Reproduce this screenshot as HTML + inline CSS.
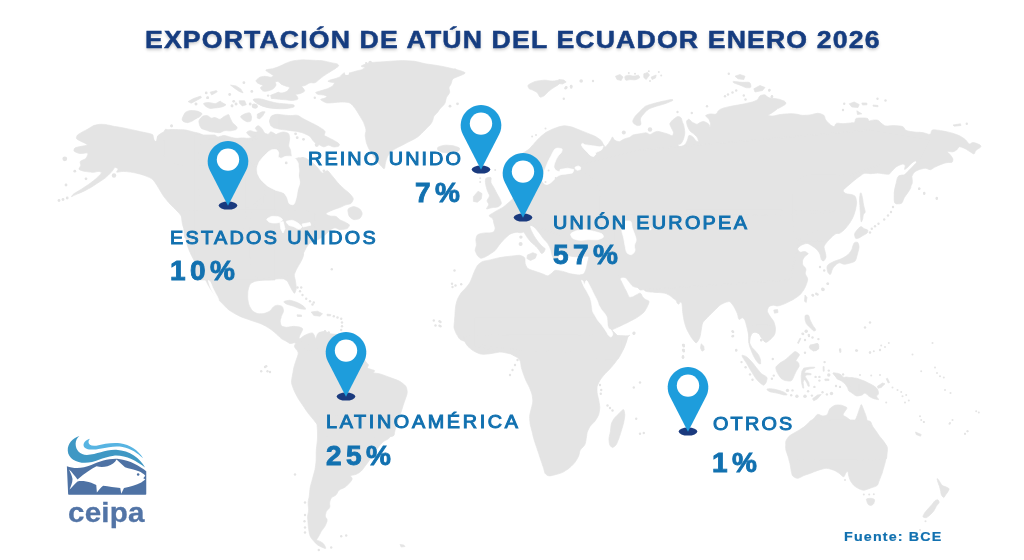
<!DOCTYPE html>
<html lang="es">
<head>
<meta charset="utf-8">
<title>Exportación de atún del Ecuador enero 2026</title>
<style>
html,body{margin:0;padding:0;background:#fff;}
body{width:1024px;height:560px;position:relative;overflow:hidden;font-family:"Liberation Sans",sans-serif;}
#map{position:absolute;left:0;top:0;width:1024px;height:560px;}
.title{position:absolute;left:145px;top:24px;margin:0;font-size:23px;line-height:32px;font-weight:bold;color:#163d80;white-space:nowrap;letter-spacing:0.97px;transform-origin:0 50%;transform:scaleX(1.16);-webkit-text-stroke:0.45px #163d80;text-shadow:0 2px 3px rgba(0,0,0,.22);}
.lbl{position:absolute;font-size:18px;line-height:18px;color:#1271b0;white-space:nowrap;letter-spacing:2.2px;-webkit-text-stroke:0.95px #1271b0;transform-origin:0 50%;transform:scaleX(1.1);}
.pct{position:absolute;font-size:28px;line-height:28px;font-weight:bold;color:#1271b0;white-space:nowrap;letter-spacing:4.4px;-webkit-text-stroke:0.9px #1271b0;}
.src{position:absolute;left:844px;top:529px;font-size:13px;line-height:16px;font-weight:bold;color:#1271b0;letter-spacing:1.05px;white-space:nowrap;transform-origin:0 50%;transform:scaleX(1.1);-webkit-text-stroke:0.2px #1271b0;}
.pin{position:absolute;width:42px;height:72px;overflow:visible;}
.logo{position:absolute;left:60px;top:430px;width:96px;height:70px;}
.logotxt{position:absolute;left:67.7px;top:494.8px;font-size:28.3px;line-height:34px;font-weight:bold;color:#5274a6;letter-spacing:0.2px;transform-origin:0 50%;transform:scaleX(1.045);-webkit-text-stroke:0.3px #5274a6;}
</style>
</head>
<body>
<svg id="map" viewBox="0 0 1024 560">
<g id="land" fill="#e4e4e4" stroke="none">
<path fill="#e4e4e4" stroke="#e4e4e4" stroke-width="0.7" stroke-linejoin="round" d="M76.9 136.1 Q77.2 135.0 78.8 134.1 L80.8 132.9 Q82.2 132.0 83.8 131.2 L85.8 130.2 Q87.2 129.5 89.1 128.3 L91.6 126.7 Q93.5 125.5 95.4 125.1 L97.9 124.6 Q99.8 124.2 101.6 124.3 L104.1 124.4 Q106.0 124.5 107.9 125.0 L110.4 125.5 Q112.2 126.0 114.9 126.5 L118.4 127.0 Q121.0 127.5 124.0 128.1 L128.0 128.9 Q131.0 129.5 134.0 130.2 L138.0 131.1 Q141.0 131.8 143.6 132.3 L147.1 133.0 Q149.8 133.5 150.9 133.9 L152.4 134.6 Q153.5 135.0 153.7 136.5 L154.0 138.5 Q154.2 140.0 154.8 140.4 L155.5 141.1 Q156.0 141.5 156.3 139.9 L156.7 137.8 Q157.0 136.2 158.6 135.1 L160.7 133.6 Q162.2 132.5 164.5 131.6 L167.5 130.4 Q169.8 129.5 172.4 129.5 L175.9 129.5 Q178.5 129.5 180.8 129.7 L183.8 129.8 Q186.0 130.0 188.2 130.6 L191.2 131.4 Q193.5 132.0 195.8 132.5 L198.8 133.2 Q201.0 133.8 202.5 134.9 L204.5 136.4 Q206.0 137.5 209.0 138.1 L213.0 138.9 Q216.0 139.5 220.5 139.7 L226.5 139.8 Q231.0 140.0 235.5 143.0 L241.5 147.0 Q246.0 150.0 246.0 177.0 L246.0 213.0 Q246.0 240.0 227.6 240.0 L203.1 240.0 Q184.8 240.0 184.5 237.0 L184.2 233.0 Q184.0 230.0 183.8 227.0 L183.7 223.0 Q183.5 220.0 182.4 218.1 L180.9 215.6 Q179.8 213.8 177.9 211.9 L175.4 209.4 Q173.5 207.5 172.0 206.0 L170.0 204.0 Q168.5 202.5 167.0 200.6 L165.0 198.1 Q163.5 196.2 162.4 194.4 L160.9 191.9 Q159.8 190.0 158.6 188.1 L157.1 185.6 Q156.0 183.8 154.9 182.2 L153.4 180.2 Q152.2 178.8 149.6 177.6 L146.1 176.1 Q143.5 175.0 140.5 174.2 L136.5 173.2 Q133.5 172.5 130.5 172.1 L126.5 171.6 Q123.5 171.2 121.2 171.6 L118.2 172.1 Q116.0 172.5 116.8 171.4 L117.8 169.9 Q118.5 168.8 117.4 168.2 L115.9 167.5 Q114.8 167.0 114.0 168.3 L113.0 170.0 Q112.2 171.2 110.4 173.1 L107.9 175.6 Q106.0 177.5 103.8 179.0 L100.8 181.0 Q98.5 182.5 96.2 184.0 L93.2 186.0 Q91.0 187.5 88.4 188.8 L84.9 190.7 Q82.2 192.0 80.0 192.9 L77.0 194.1 Q74.8 195.0 73.6 195.6 L72.1 196.4 Q71.0 197.0 71.8 196.0 L72.8 194.7 Q73.5 193.8 75.8 192.5 L78.8 190.8 Q81.0 189.5 83.2 188.0 L86.2 186.0 Q88.5 184.5 90.8 182.8 L93.8 180.5 Q96.0 178.8 97.9 176.9 L100.4 174.4 Q102.2 172.5 101.1 172.1 L99.6 171.6 Q98.5 171.2 97.0 171.6 L95.0 172.1 Q93.5 172.5 90.5 172.1 L86.5 171.6 Q83.5 171.2 82.0 170.7 L80.0 170.0 Q78.5 169.5 79.2 168.3 L80.2 166.7 Q81.0 165.5 80.6 164.2 L80.1 162.5 Q79.8 161.2 81.6 160.5 L84.1 159.5 Q86.0 158.8 86.8 156.9 L87.8 154.4 Q88.5 152.5 85.9 152.9 L82.4 153.4 Q79.8 153.8 77.9 153.0 L75.4 152.0 Q73.5 151.2 73.9 150.1 L74.4 148.6 Q74.8 147.5 78.9 146.8 L84.4 145.8 Q88.5 145.0 87.0 144.2 L85.0 143.2 Q83.5 142.5 81.2 141.4 L78.2 139.9 Q76.0 138.8 76.4 137.6Z M188.1 101.6 L193.6 98.5 L200.7 96.1 L201.4 97.7 L195.9 100.8 L191.2 103.2Z M203.7 104.1 Q203.0 103.2 204.9 102.9 L207.4 102.6 Q209.3 102.4 211.2 102.9 L213.7 103.5 Q215.6 104.0 217.0 103.0 L218.9 101.8 Q220.3 100.8 221.0 101.5 L222.0 102.5 Q222.7 103.2 223.9 103.6 L225.4 104.3 Q226.6 104.7 225.2 105.4 L223.3 106.4 Q221.9 107.1 220.0 107.3 L217.5 107.7 Q215.6 107.9 213.9 108.1 L211.7 108.4 Q210.1 108.7 208.7 108.0 L206.8 107.0 Q205.4 106.3 204.7 105.4Z M239.2 100.8 L244.7 100.8 L246.3 104.7 L242.3 106.0 L239.5 103.2Z M240.9 117.5 Q240.0 116.5 241.6 115.6 L243.8 114.3 Q245.5 113.4 246.9 113.2 L248.8 112.8 Q250.2 112.6 250.7 114.0 L251.3 115.9 Q251.8 117.3 251.5 118.5 L251.2 120.1 Q251.0 121.3 249.8 121.5 L248.2 121.8 Q247.0 122.0 245.9 121.3 L244.3 120.4 Q243.1 119.7 242.2 118.7Z M257.3 114.2 L262.0 111.8 L265.1 111.8 L262.8 115.7 L259.6 118.9 L257.3 118.1Z M230.5 85.1 L236.0 85.9 L240.8 89.0 L243.1 92.9 L239.2 91.4 L234.5 88.2Z M210.1 92.2 L216.4 90.6 L217.2 91.8 L211.7 95.0Z M253.7 100.4 Q252.5 99.2 254.7 99.0 L257.5 98.7 Q259.6 98.5 262.0 99.2 L265.1 100.1 Q267.5 100.8 270.3 101.5 L274.1 102.5 Q276.9 103.2 279.7 103.4 L283.5 103.7 Q286.4 104.0 288.7 104.2 L291.9 104.5 Q294.2 104.7 294.2 105.4 L294.2 106.4 Q294.2 107.1 291.9 107.6 L288.7 108.2 Q286.4 108.7 283.5 108.7 L279.7 108.7 Q276.9 108.7 274.6 108.4 L271.4 108.1 Q269.1 107.9 267.2 107.4 L264.7 106.8 Q262.8 106.3 260.9 105.4 L258.4 104.1 Q256.5 103.2 255.3 102.0Z M270.6 95.3 L278.5 92.2 L281.6 94.5 L276.9 97.7 L271.4 98.5Z M163.7 140.2 Q163.7 129.1 165.6 129.3 L168.1 129.7 Q170.0 129.9 172.4 130.1 L175.5 130.4 Q177.9 130.7 180.2 130.9 L183.4 131.2 Q185.7 131.5 188.1 131.9 L191.2 132.6 Q193.6 133.0 195.9 133.5 L199.1 134.1 Q201.4 134.6 202.9 135.6 L204.7 136.8 Q206.2 137.8 208.5 138.0 L211.7 138.3 Q214.0 138.5 215.9 137.8 L218.4 136.9 Q220.3 136.2 221.7 136.0 L223.6 135.6 Q225.0 135.4 226.4 135.9 L228.3 136.5 Q229.7 137.0 231.6 137.4 L234.2 138.1 Q236.0 138.5 237.9 138.3 L240.4 138.0 Q242.3 137.8 244.2 138.0 L246.7 138.3 Q248.6 138.5 250.5 137.8 L253.0 136.9 Q254.9 136.2 255.8 134.8 L257.1 132.9 Q258.1 131.5 257.1 130.5 L255.8 129.3 Q254.9 128.3 255.8 127.4 L257.1 126.1 Q258.1 125.2 259.2 126.1 L260.8 127.4 Q262.0 128.3 262.7 129.7 L263.6 131.6 Q264.3 133.0 265.5 133.5 L267.1 134.1 Q268.3 134.6 269.0 133.7 L269.9 132.4 Q270.6 131.5 271.6 131.9 L272.8 132.6 Q273.8 133.0 275.2 134.0 L277.1 135.2 Q278.5 136.2 279.0 138.5 L279.6 141.7 Q280.1 144.1 280.1 150.7 L280.1 159.5 Q280.1 166.1 245.2 166.1 L198.6 166.1 Q163.7 166.1 163.7 155.0Z M269.9 121.4 Q269.7 120.4 270.1 119.0 L270.8 117.1 Q271.2 115.7 272.9 115.3 L275.1 114.6 Q276.7 114.2 278.6 114.4 L281.1 114.7 Q283.0 114.9 285.4 115.2 L288.5 115.5 Q290.9 115.7 292.8 115.5 L295.3 115.2 Q297.2 114.9 299.1 116.1 L301.6 117.7 Q303.5 118.9 305.3 119.8 L307.9 121.1 Q309.7 122.0 311.6 123.0 L314.2 124.2 Q316.0 125.2 317.7 126.1 L319.9 127.4 Q321.5 128.3 322.7 129.2 L324.3 130.5 Q325.5 131.4 325.0 132.6 L324.4 134.2 Q323.9 135.4 325.3 136.1 L327.2 137.0 Q328.6 137.7 330.5 138.7 L333.0 139.9 Q334.9 140.9 336.3 141.8 L338.2 143.1 Q339.6 144.0 339.4 144.7 L339.1 145.7 Q338.8 146.4 337.2 146.6 L335.0 146.9 Q333.3 147.2 331.9 146.5 L330.0 145.5 Q328.6 144.8 327.2 145.5 L325.3 146.5 Q323.9 147.2 322.5 146.5 L320.6 145.5 Q319.2 144.8 317.8 144.1 L315.9 143.2 Q314.5 142.5 313.8 141.5 L312.8 140.3 Q312.1 139.3 311.4 138.4 L310.5 137.1 Q309.7 136.2 307.9 135.2 L305.3 134.0 Q303.5 133.0 301.6 132.5 L299.1 131.9 Q297.2 131.4 295.3 131.2 L292.8 130.9 Q290.9 130.7 289.0 130.4 L286.5 130.1 Q284.6 129.9 282.7 129.6 L280.2 129.3 Q278.3 129.1 276.9 128.4 L275.0 127.4 Q273.6 126.7 272.6 125.8 L271.4 124.5 Q270.4 123.6 270.2 122.6Z M437.5 147.9 Q437.5 147.0 439.8 146.4 L442.8 145.6 Q445.0 145.0 447.6 145.2 L451.1 145.5 Q453.8 145.8 455.6 146.4 L458.1 147.3 Q460.0 148.0 459.6 149.0 L459.1 150.3 Q458.8 151.2 456.5 151.8 L453.5 152.5 Q451.2 153.0 448.6 152.8 L445.1 152.7 Q442.5 152.5 441.0 151.8 L439.0 150.8 Q437.5 150.0 437.5 149.1Z M527.9 86.1 Q527.5 85.0 529.8 83.9 L532.8 82.4 Q535.0 81.2 538.0 80.9 L542.0 80.4 Q545.0 80.0 547.2 80.4 L550.2 80.9 Q552.5 81.2 554.4 80.9 L556.9 80.4 Q558.8 80.0 559.1 81.1 L559.6 82.6 Q560.0 83.8 558.1 84.9 L555.6 86.4 Q553.8 87.5 552.2 88.6 L550.2 90.1 Q548.8 91.2 547.2 92.8 L545.2 94.8 Q543.8 96.2 542.6 96.6 L541.1 97.1 Q540.0 97.5 539.2 96.0 L538.2 94.0 Q537.5 92.5 536.0 91.8 L534.0 90.8 Q532.5 90.0 531.4 89.6 L529.9 89.1 Q528.8 88.8 528.4 87.6Z M284.0 158.6 Q282.5 157.5 284.8 158.1 L287.8 158.9 Q290.0 159.5 292.6 159.1 L296.1 158.4 Q298.8 158.0 300.6 157.8 L303.1 157.7 Q305.0 157.5 307.2 159.0 L310.2 161.0 Q312.5 162.5 314.0 164.0 L316.0 166.0 Q317.5 167.5 319.0 169.4 L321.0 171.9 Q322.5 173.8 324.0 172.6 L326.0 171.1 Q327.5 170.0 329.0 171.9 L331.0 174.4 Q332.5 176.2 334.0 178.1 L336.0 180.6 Q337.5 182.5 339.4 184.4 L341.9 186.9 Q343.8 188.8 345.6 190.2 L348.1 192.2 Q350.0 193.8 351.1 195.2 L352.6 197.2 Q353.8 198.8 353.0 200.2 L352.0 202.2 Q351.2 203.8 349.4 204.1 L346.9 204.6 Q345.0 205.0 343.5 205.8 L341.5 206.8 Q340.0 207.5 337.8 208.2 L334.8 209.2 Q332.5 210.0 330.2 211.1 L327.2 212.6 Q325.0 213.8 326.5 214.5 L328.5 215.5 Q330.0 216.2 331.9 216.2 L334.4 216.2 Q336.2 216.2 337.4 217.4 L338.9 218.9 Q340.0 220.0 341.5 220.6 L343.5 221.4 Q345.0 222.0 346.5 222.9 L348.5 224.1 Q350.0 225.0 349.2 226.1 L348.2 227.6 Q347.5 228.8 345.2 229.1 L342.2 229.6 Q340.0 230.0 338.5 229.2 L336.5 228.2 Q335.0 227.5 333.5 228.2 L331.5 229.2 Q330.0 230.0 328.5 231.5 L326.5 233.5 Q325.0 235.0 322.8 236.5 L319.8 238.5 Q317.5 240.0 315.2 240.8 L312.2 241.8 Q310.0 242.5 308.9 244.0 L307.4 246.0 Q306.2 247.5 304.8 250.5 L302.8 254.5 Q301.2 257.5 299.8 260.5 L297.8 264.5 Q296.2 267.5 295.1 269.8 L293.6 272.8 Q292.5 275.0 279.8 276.5 L262.8 278.5 Q250.0 280.0 250.0 257.5 L250.0 227.5 Q250.0 205.0 257.5 200.5 L267.5 194.5 Q275.0 190.0 277.6 190.8 L281.1 191.8 Q283.8 192.5 284.9 194.0 L286.4 196.0 Q287.5 197.5 287.9 199.4 L288.4 201.9 Q288.8 203.8 290.2 204.1 L292.2 204.6 Q293.8 205.0 294.5 202.8 L295.5 199.8 Q296.2 197.5 296.6 195.2 L297.1 192.2 Q297.5 190.0 298.2 188.1 L299.2 185.6 Q300.0 183.8 299.6 181.5 L299.1 178.5 Q298.8 176.2 299.1 174.4 L299.6 171.9 Q300.0 170.0 299.2 167.8 L298.2 164.8 Q297.5 162.5 294.5 162.1 L290.5 161.6 Q287.5 161.2 286.0 160.1Z M347.9 211.0 Q347.5 208.8 349.4 208.0 L351.9 207.0 Q353.8 206.2 355.6 207.0 L358.1 208.0 Q360.0 208.8 360.8 210.2 L361.8 212.2 Q362.5 213.8 361.8 215.2 L360.8 217.2 Q360.0 218.8 358.1 219.1 L355.6 219.6 Q353.8 220.0 352.2 218.9 L350.2 217.4 Q348.8 216.2 348.4 214.0Z M195.0 135.0 L215.0 135.0 L257.5 167.5 L257.5 173.8 L261.2 180.0 L267.5 186.2 L275.0 190.0 L275.0 280.0 L195.0 280.0Z M182.1 211.5 Q182.5 210.0 222.2 210.0 L275.2 210.0 Q315.0 210.0 315.0 214.5 L315.0 220.5 Q315.0 225.0 313.5 228.0 L311.5 232.0 Q310.0 235.0 308.6 237.6 L306.9 241.1 Q305.5 243.8 304.8 245.2 L303.8 247.2 Q303.0 248.8 303.2 250.6 L303.5 253.1 Q303.8 255.0 303.0 256.9 L302.0 259.4 Q301.2 261.2 300.1 263.1 L298.6 265.6 Q297.5 267.5 296.4 269.6 L295.1 272.4 Q294.0 274.5 294.4 276.5 L295.1 279.2 Q295.5 281.2 295.8 283.5 L296.2 286.5 Q296.5 288.8 295.9 290.3 L295.1 292.4 Q294.5 294.0 293.8 292.8 L292.8 291.2 Q292.0 290.0 291.2 288.5 L290.2 286.5 Q289.5 285.0 288.9 283.9 L288.1 282.4 Q287.5 281.2 286.4 280.5 L284.9 279.5 Q283.8 278.8 281.9 278.8 L279.4 278.8 Q277.5 278.8 275.2 279.1 L272.2 279.6 Q270.0 280.0 267.8 280.0 L264.8 280.0 Q262.5 280.0 260.2 280.4 L257.2 280.9 Q255.0 281.2 253.5 282.0 L251.5 283.0 Q250.0 283.8 249.4 285.6 L248.6 288.1 Q248.0 290.0 247.8 292.2 L247.7 295.2 Q247.5 297.5 247.9 299.8 L248.4 302.8 Q248.8 305.0 249.9 306.9 L251.4 309.4 Q252.5 311.2 254.0 312.0 L256.0 313.0 Q257.5 313.8 259.4 313.8 L261.9 313.8 Q263.8 313.8 265.6 313.0 L268.1 312.0 Q270.0 311.2 271.1 309.8 L272.6 307.8 Q273.8 306.2 274.9 305.9 L276.4 305.4 Q277.5 305.0 279.0 305.4 L281.0 305.9 Q282.5 306.2 282.9 307.8 L283.4 309.8 Q283.8 311.2 283.0 312.8 L282.0 314.8 Q281.2 316.2 280.9 317.8 L280.4 319.8 Q280.0 321.2 280.4 322.8 L280.9 324.8 Q281.2 326.2 282.8 326.6 L284.8 327.1 Q286.2 327.5 288.5 327.1 L291.5 326.6 Q293.8 326.2 295.6 326.5 L298.1 326.8 Q300.0 327.0 300.9 327.5 L302.1 328.2 Q303.0 328.8 302.5 329.9 L301.8 331.4 Q301.2 332.5 300.5 334.0 L299.5 336.0 Q298.8 337.5 299.5 338.9 L300.5 340.6 Q301.2 342.0 302.8 343.1 L304.8 344.4 Q306.2 345.5 307.8 345.0 L309.8 344.3 Q311.2 343.8 313.1 343.0 L315.6 342.0 Q317.5 341.2 319.0 341.6 L321.0 342.1 Q322.5 342.5 321.8 344.0 L320.8 346.0 Q320.0 347.5 318.5 348.1 L316.5 348.9 Q315.0 349.5 313.9 350.0 L312.4 350.7 Q311.2 351.2 309.8 350.9 L307.8 350.4 Q306.2 350.0 304.4 348.9 L301.9 347.4 Q300.0 346.2 298.5 345.1 L296.5 343.6 Q295.0 342.5 293.5 342.9 L291.5 343.4 Q290.0 343.8 288.9 343.0 L287.4 342.0 Q286.2 341.2 284.8 340.5 L282.8 339.5 Q281.2 338.8 279.8 337.2 L277.8 335.2 Q276.2 333.8 274.4 332.2 L271.9 330.2 Q270.0 328.8 268.1 327.6 L265.6 326.1 Q263.8 325.0 261.9 324.2 L259.4 323.2 Q257.5 322.5 255.2 321.8 L252.2 320.8 Q250.0 320.0 247.8 319.2 L244.8 318.2 Q242.5 317.5 240.2 316.4 L237.2 314.9 Q235.0 313.8 233.1 312.6 L230.6 311.1 Q228.8 310.0 227.2 308.5 L225.2 306.5 Q223.8 305.0 221.9 303.1 L219.4 300.6 Q217.5 298.8 216.4 297.2 L214.9 295.2 Q213.8 293.8 212.2 291.5 L210.2 288.5 Q208.8 286.2 207.6 284.0 L206.1 281.0 Q205.0 278.8 203.9 276.9 L202.4 274.4 Q201.2 272.5 199.8 270.2 L197.8 267.2 Q196.2 265.0 194.8 262.0 L192.8 258.0 Q191.2 255.0 190.1 252.4 L188.6 248.9 Q187.5 246.2 186.9 243.6 L186.1 240.1 Q185.5 237.5 185.2 235.2 L184.8 232.2 Q184.5 230.0 183.9 228.5 L183.1 226.5 Q182.5 225.0 182.1 222.0 L181.6 218.0 Q181.2 215.0 181.6 213.5Z M284.0 301.8 Q283.8 301.2 285.6 300.9 L288.1 300.4 Q290.0 300.0 292.2 300.8 L295.2 301.8 Q297.5 302.5 299.4 303.6 L301.9 305.1 Q303.8 306.2 304.5 307.2 L305.5 308.5 Q306.2 309.5 304.4 309.3 L301.9 309.0 Q300.0 308.8 298.1 308.0 L295.6 307.0 Q293.8 306.2 291.9 305.7 L289.4 305.0 Q287.5 304.5 286.6 304.1 L285.4 303.4 Q284.5 303.0 284.3 302.5Z M311.2 312.0 L317.5 311.2 L322.5 313.8 L320.0 316.2 L313.8 315.5Z M297.0 314.8 L301.5 315.0 L301.5 316.5 L297.5 316.5Z M327.0 314.2 L330.8 314.5 L330.5 315.8 L327.2 315.8Z M295.2 348.1 Q293.8 346.2 294.9 344.8 L296.4 342.8 Q297.5 341.2 298.2 340.5 L299.2 339.5 Q300.0 338.8 301.5 337.6 L303.5 336.1 Q305.0 335.0 307.2 334.2 L310.2 333.2 Q312.5 332.5 313.1 333.4 L313.9 334.6 Q314.5 335.5 314.8 336.7 L315.2 338.3 Q315.5 339.5 315.9 338.1 L316.6 336.4 Q317.0 335.0 317.5 334.2 L318.2 333.2 Q318.8 332.5 320.6 332.1 L323.1 331.6 Q325.0 331.2 326.5 332.0 L328.5 333.0 Q330.0 333.8 332.2 334.0 L335.2 334.3 Q337.5 334.5 339.8 335.0 L342.8 335.7 Q345.0 336.2 347.2 338.5 L350.2 341.5 Q352.5 343.8 354.8 346.4 L357.8 349.9 Q360.0 352.5 361.9 355.5 L364.4 359.5 Q366.2 362.5 367.0 363.2 L368.0 364.2 Q368.8 365.0 368.2 365.9 L367.5 367.1 Q367.0 368.0 368.3 368.4 L370.0 369.1 Q371.2 369.5 372.4 369.8 L373.9 370.2 Q375.0 370.5 374.4 371.2 L373.6 372.2 Q373.0 373.0 375.1 373.2 L377.9 373.5 Q380.0 373.8 383.0 374.9 L387.0 376.4 Q390.0 377.5 393.0 378.6 L397.0 380.1 Q400.0 381.2 401.9 382.8 L404.4 384.8 Q406.2 386.2 406.6 388.1 L407.1 390.6 Q407.5 392.5 406.8 394.8 L405.8 397.8 Q405.0 400.0 404.2 402.2 L403.2 405.2 Q402.5 407.5 401.8 409.8 L400.8 412.8 Q400.0 415.0 399.2 417.2 L398.2 420.2 Q397.5 422.5 396.8 424.8 L395.8 427.8 Q395.0 430.0 394.6 432.2 L394.1 435.2 Q393.8 437.5 371.6 437.5 L342.1 437.5 Q320.0 437.5 319.6 434.1 L319.1 429.6 Q318.8 426.2 317.2 424.4 L315.2 421.9 Q313.8 420.0 311.9 417.8 L309.4 414.8 Q307.5 412.5 306.0 410.2 L304.0 407.2 Q302.5 405.0 301.0 402.8 L299.0 399.8 Q297.5 397.5 296.4 395.2 L294.9 392.2 Q293.8 390.0 293.0 387.8 L292.0 384.8 Q291.2 382.5 291.6 380.2 L292.1 377.2 Q292.5 375.0 292.9 372.8 L293.4 369.8 Q293.8 367.5 294.5 365.2 L295.5 362.2 Q296.2 360.0 297.0 357.8 L298.0 354.8 Q298.8 352.5 297.2 350.6Z M372.8 415.0 Q397.0 415.0 396.8 416.5 L396.5 418.5 Q396.2 420.0 395.9 422.2 L395.4 425.2 Q395.0 427.5 394.2 429.4 L393.2 431.9 Q392.5 433.8 391.4 435.2 L389.9 437.2 Q388.8 438.8 387.2 439.5 L385.2 440.5 Q383.8 441.2 382.6 442.4 L381.1 443.9 Q380.0 445.0 378.9 446.5 L377.4 448.5 Q376.2 450.0 375.1 451.5 L373.6 453.5 Q372.5 455.0 371.4 456.9 L369.9 459.4 Q368.8 461.2 367.6 462.8 L366.1 464.8 Q365.0 466.2 363.9 467.8 L362.4 469.8 Q361.2 471.2 359.8 472.2 L357.8 473.5 Q356.2 474.5 354.4 474.8 L351.9 475.2 Q350.0 475.5 350.8 476.5 L351.8 477.8 Q352.5 478.8 351.8 479.9 L350.8 481.4 Q350.0 482.5 348.5 484.0 L346.5 486.0 Q345.0 487.5 343.1 488.2 L340.6 489.2 Q338.8 490.0 338.0 491.5 L337.0 493.5 Q336.2 495.0 334.8 495.8 L332.8 496.8 Q331.2 497.5 330.7 499.0 L330.0 501.0 Q329.5 502.5 329.6 504.0 L329.9 506.0 Q330.0 507.5 328.9 508.6 L327.4 510.1 Q326.2 511.2 325.9 512.8 L325.4 514.8 Q325.0 516.2 325.8 517.4 L326.8 518.9 Q327.5 520.0 326.8 521.9 L325.8 524.4 Q325.0 526.2 323.9 527.8 L322.4 529.8 Q321.2 531.2 320.5 532.8 L319.5 534.8 Q318.8 536.2 318.0 537.4 L317.0 538.9 Q316.2 540.0 317.4 540.4 L318.9 540.9 Q320.0 541.2 321.1 542.0 L322.6 543.0 Q323.8 543.8 324.5 545.2 L325.5 547.2 Q326.2 548.8 325.1 548.4 L323.6 547.9 Q322.5 547.5 321.0 546.8 L319.0 545.8 Q317.5 545.0 316.4 543.9 L314.9 542.4 Q313.8 541.2 312.6 539.8 L311.1 537.8 Q310.0 536.2 309.6 534.4 L309.1 531.9 Q308.8 530.0 308.5 527.8 L308.2 524.8 Q308.0 522.5 307.9 520.6 L307.6 518.1 Q307.5 516.2 307.9 514.4 L308.4 511.9 Q308.8 510.0 308.5 507.8 L308.2 504.8 Q308.0 502.5 308.4 500.2 L309.1 497.2 Q309.5 495.0 309.6 492.8 L309.9 489.8 Q310.0 487.5 310.8 484.9 L311.8 481.4 Q312.5 478.8 313.2 476.1 L314.2 472.6 Q315.0 470.0 315.4 467.0 L315.9 463.0 Q316.2 460.0 316.2 457.0 L316.2 453.0 Q316.2 450.0 316.6 447.0 L317.1 443.0 Q317.5 440.0 317.5 437.0 L317.5 433.0 Q317.5 430.0 317.1 425.5 L316.6 419.5 Q316.2 415.0 340.5 415.0Z M400.0 544.5 L403.8 545.0 L405.0 546.5 L401.2 547.0Z M481.0 262.4 Q482.5 261.2 484.8 260.9 L487.8 260.4 Q490.0 260.0 493.0 259.2 L497.0 258.2 Q500.0 257.5 503.0 257.1 L507.0 256.6 Q510.0 256.2 513.0 255.9 L517.0 255.4 Q520.0 255.0 521.5 255.8 L523.5 256.8 Q525.0 257.5 525.0 259.4 L525.0 261.9 Q525.0 263.8 525.8 265.2 L526.8 267.2 Q527.5 268.8 529.8 269.5 L532.8 270.5 Q535.0 271.2 537.2 272.0 L540.2 273.0 Q542.5 273.8 544.0 274.5 L546.0 275.5 Q547.5 276.2 548.6 275.5 L550.1 274.5 Q551.2 273.8 552.4 272.6 L553.9 271.1 Q555.0 270.0 557.2 270.4 L560.2 270.9 Q562.5 271.2 564.8 272.0 L567.8 273.0 Q570.0 273.8 572.2 274.1 L575.2 274.6 Q577.5 275.0 579.4 274.9 L581.9 274.6 Q583.8 274.5 584.5 272.8 L585.5 270.5 Q586.2 268.8 586.6 266.9 L587.1 264.4 Q587.5 262.5 587.9 261.0 L588.4 259.0 Q588.8 257.5 589.1 255.2 L589.6 252.2 Q590.0 250.0 596.0 250.0 L604.0 250.0 Q610.0 250.0 612.6 257.9 L616.1 268.4 Q618.8 276.2 619.1 277.1 L619.6 278.2 Q620.0 279.0 620.8 280.4 L621.8 282.3 Q622.5 283.8 623.2 285.2 L624.2 287.2 Q625.0 288.8 625.8 290.2 L626.8 292.2 Q627.5 293.8 628.0 294.9 L628.7 296.4 Q629.2 297.5 630.2 297.4 L631.5 297.1 Q632.5 297.0 633.6 296.4 L635.1 295.6 Q636.2 295.0 637.3 294.4 L638.7 293.6 Q639.8 293.0 640.2 293.2 L640.8 293.5 Q641.2 293.8 641.6 294.7 L642.1 296.0 Q642.5 297.0 643.4 297.8 L644.6 298.8 Q645.5 299.5 646.7 300.0 L648.3 300.7 Q649.5 301.2 649.0 302.4 L648.5 303.9 Q648.0 305.0 647.5 306.1 L646.8 307.6 Q646.2 308.8 645.5 309.9 L644.5 311.4 Q643.8 312.5 642.6 313.4 L641.1 314.6 Q640.0 315.5 638.5 316.5 L636.5 317.8 Q635.0 318.8 633.1 319.7 L630.6 321.0 Q628.8 322.0 626.9 322.9 L624.4 324.1 Q622.5 325.0 620.6 325.9 L618.1 327.1 Q616.2 328.0 614.8 328.6 L612.8 329.4 Q611.2 330.0 611.2 332.2 L611.2 335.2 Q611.2 337.5 612.4 337.5 L613.9 337.5 Q615.0 337.5 616.5 337.4 L618.5 337.1 Q620.0 337.0 621.5 336.8 L623.5 336.5 Q625.0 336.2 626.1 336.0 L627.6 335.7 Q628.8 335.5 629.1 335.4 L629.6 335.1 Q630.0 335.0 629.2 335.8 L628.2 336.8 Q627.5 337.5 627.1 339.0 L626.6 341.0 Q626.2 342.5 625.5 344.4 L624.5 346.9 Q623.8 348.8 622.8 350.6 L621.5 353.1 Q620.5 355.0 619.6 356.5 L618.4 358.5 Q617.5 360.0 612.2 360.0 L605.2 360.0 Q600.0 360.0 594.0 357.8 L586.0 354.8 Q580.0 352.5 560.5 351.8 L534.5 350.8 Q515.0 350.0 501.5 347.8 L483.5 344.8 Q470.0 342.5 467.0 341.8 L463.0 340.8 Q460.0 340.0 458.9 338.1 L457.4 335.6 Q456.2 333.8 455.5 331.9 L454.5 329.4 Q453.8 327.5 454.0 325.6 L454.3 323.1 Q454.5 321.2 454.6 319.0 L454.9 316.0 Q455.0 313.8 455.1 311.5 L455.4 308.5 Q455.5 306.2 456.1 304.0 L456.9 301.0 Q457.5 298.8 458.6 296.9 L460.1 294.4 Q461.2 292.5 462.8 291.0 L464.8 289.0 Q466.2 287.5 467.4 286.0 L468.9 284.0 Q470.0 282.5 470.8 280.6 L471.8 278.1 Q472.5 276.2 473.2 274.4 L474.2 271.9 Q475.0 270.0 475.8 268.5 L476.8 266.5 Q477.5 265.0 479.0 263.9Z M578.4 335.0 Q627.5 335.0 627.4 336.5 L627.1 338.5 Q627.0 340.0 626.0 342.2 L624.7 345.2 Q623.8 347.5 622.6 349.8 L621.1 352.8 Q620.0 355.0 618.9 356.9 L617.4 359.4 Q616.2 361.2 614.8 363.1 L612.8 365.6 Q611.2 367.5 609.4 369.4 L606.9 371.9 Q605.0 373.8 603.5 375.6 L601.5 378.1 Q600.0 380.0 599.1 381.9 L597.9 384.4 Q597.0 386.2 597.0 388.1 L597.0 390.6 Q597.0 392.5 597.5 394.8 L598.2 397.8 Q598.8 400.0 599.1 402.2 L599.6 405.2 Q600.0 407.5 599.6 409.8 L599.1 412.8 Q598.8 415.0 597.6 416.9 L596.1 419.4 Q595.0 421.2 593.5 422.8 L591.5 424.8 Q590.0 426.2 589.1 428.1 L587.9 430.6 Q587.0 432.5 586.8 434.4 L586.5 436.9 Q586.2 438.8 585.9 440.6 L585.4 443.1 Q585.0 445.0 583.5 446.5 L581.5 448.5 Q580.0 450.0 579.6 451.9 L579.1 454.4 Q578.8 456.2 577.6 458.1 L576.1 460.6 Q575.0 462.5 573.5 464.0 L571.5 466.0 Q570.0 467.5 568.1 468.9 L565.6 470.6 Q563.8 472.0 561.5 472.8 L558.5 473.8 Q556.2 474.5 554.0 475.0 L551.0 475.7 Q548.8 476.2 547.6 475.5 L546.1 474.5 Q545.0 473.8 544.6 472.2 L544.1 470.2 Q543.8 468.8 543.0 466.5 L542.0 463.5 Q541.2 461.2 540.5 459.0 L539.5 456.0 Q538.8 453.8 538.0 451.5 L537.0 448.5 Q536.2 446.2 535.5 444.0 L534.5 441.0 Q533.8 438.8 533.2 436.5 L532.5 433.5 Q532.0 431.2 531.4 429.0 L530.6 426.0 Q530.0 423.8 529.9 421.5 L529.6 418.5 Q529.5 416.2 530.0 414.0 L530.7 411.0 Q531.2 408.8 531.8 406.5 L532.5 403.5 Q533.0 401.2 532.7 399.0 L532.3 396.0 Q532.0 393.8 531.2 391.9 L530.2 389.4 Q529.5 387.5 528.5 385.6 L527.2 383.1 Q526.2 381.2 525.5 379.4 L524.5 376.9 Q523.8 375.0 523.0 372.8 L522.0 369.8 Q521.2 367.5 521.0 365.6 L520.7 363.1 Q520.5 361.2 519.6 360.1 L518.4 358.6 Q517.5 357.5 516.0 356.8 L514.0 355.8 Q512.5 355.0 511.0 353.9 L509.0 352.4 Q507.5 351.2 505.2 351.5 L502.2 351.8 Q500.0 352.0 497.0 352.5 L493.0 353.2 Q490.0 353.8 487.4 354.0 L483.9 354.3 Q481.2 354.5 479.0 353.5 L476.0 352.2 Q473.8 351.2 471.9 349.8 L469.4 347.8 Q467.5 346.2 466.4 344.4 L464.9 341.9 Q463.8 340.0 463.8 338.5 L463.8 336.5 Q463.8 335.0 512.9 335.0Z M622.2 410.2 Q623.8 408.8 624.1 410.6 L624.6 413.1 Q625.0 415.0 624.6 417.2 L624.1 420.2 Q623.8 422.5 623.0 425.1 L622.0 428.6 Q621.2 431.2 620.5 433.5 L619.5 436.5 Q618.8 438.8 618.0 440.6 L617.0 443.1 Q616.2 445.0 615.1 445.9 L613.6 447.1 Q612.5 448.0 611.6 447.1 L610.4 445.9 Q609.5 445.0 609.3 443.1 L609.0 440.6 Q608.8 438.8 609.3 436.5 L610.0 433.5 Q610.5 431.2 610.7 429.0 L611.0 426.0 Q611.2 423.8 612.0 422.2 L613.0 420.2 Q613.8 418.8 615.2 417.2 L617.2 415.2 Q618.8 413.8 620.2 412.2Z M615.0 228.0 Q615.0 210.0 686.2 210.0 L781.2 210.0 Q852.5 210.0 851.8 213.0 L850.8 217.0 Q850.0 220.0 849.2 220.8 L848.2 221.8 Q847.5 222.5 846.0 224.0 L844.0 226.0 Q842.5 227.5 841.0 229.0 L839.0 231.0 Q837.5 232.5 836.0 233.6 L834.0 235.1 Q832.5 236.2 831.0 237.8 L829.0 239.8 Q827.5 241.2 826.4 242.8 L824.9 244.8 Q823.8 246.2 824.1 247.8 L824.6 249.8 Q825.0 251.2 825.4 253.1 L825.9 255.6 Q826.2 257.5 825.5 258.6 L824.5 260.1 Q823.8 261.2 823.0 260.9 L822.0 260.4 Q821.2 260.0 820.9 258.1 L820.4 255.6 Q820.0 253.8 818.9 252.2 L817.4 250.2 Q816.2 248.8 815.1 248.0 L813.6 247.0 Q812.5 246.2 811.0 245.3 L809.0 244.0 Q807.5 243.0 805.6 243.6 L803.1 244.4 Q801.2 245.0 800.0 246.1 L798.3 247.6 Q797.0 248.8 797.9 249.9 L799.1 251.4 Q800.0 252.5 801.5 252.1 L803.5 251.6 Q805.0 251.2 806.1 252.0 L807.6 253.0 Q808.8 253.8 807.6 254.5 L806.1 255.5 Q805.0 256.2 804.2 257.4 L803.2 258.9 Q802.5 260.0 802.5 261.5 L802.5 263.5 Q802.5 265.0 803.6 266.1 L805.1 267.6 Q806.2 268.8 805.9 270.2 L805.4 272.2 Q805.0 273.8 805.9 275.2 L807.1 277.2 Q808.0 278.8 807.5 280.6 L806.8 283.1 Q806.2 285.0 805.5 286.5 L804.5 288.5 Q803.8 290.0 802.6 291.5 L801.1 293.5 Q800.0 295.0 797.8 296.5 L794.8 298.5 Q792.5 300.0 790.2 301.1 L787.2 302.6 Q785.0 303.8 782.8 304.5 L779.8 305.5 Q777.5 306.2 776.4 305.9 L774.9 305.4 Q773.8 305.0 772.2 305.4 L770.2 305.9 Q768.8 306.2 768.2 307.8 L767.5 309.8 Q767.0 311.2 767.9 312.8 L769.1 314.8 Q770.0 316.2 771.1 317.8 L772.6 319.8 Q773.8 321.2 774.3 323.1 L775.0 325.6 Q775.5 327.5 775.4 329.4 L775.1 331.9 Q775.0 333.8 773.9 335.2 L772.4 337.2 Q771.2 338.8 769.6 340.0 L767.4 341.7 Q765.8 343.0 764.4 341.4 L762.6 339.1 Q761.2 337.5 760.7 336.4 L760.0 334.9 Q759.5 333.8 758.1 333.1 L756.4 332.4 Q755.0 331.8 754.1 332.1 L752.9 332.6 Q752.0 333.0 751.4 334.4 L750.6 336.1 Q750.0 337.5 749.9 339.1 L749.6 341.4 Q749.5 343.0 749.3 343.0 L749.0 343.0 Q748.8 343.0 748.8 340.6 L748.8 337.4 Q748.8 335.0 748.2 332.8 L747.5 329.8 Q747.0 327.5 746.4 325.2 L745.6 322.2 Q745.0 320.0 744.2 319.2 L743.2 318.2 Q742.5 317.5 741.4 318.2 L739.9 319.2 Q738.8 320.0 738.4 318.1 L737.9 315.6 Q737.5 313.8 736.4 311.5 L734.9 308.5 Q733.8 306.2 732.6 304.8 L731.1 302.8 Q730.0 301.2 728.5 301.6 L726.5 302.1 Q725.0 302.5 723.5 303.2 L721.5 304.2 Q720.0 305.0 718.1 306.9 L715.6 309.4 Q713.8 311.2 711.9 313.1 L709.4 315.6 Q707.5 317.5 706.0 319.0 L704.0 321.0 Q702.5 322.5 702.1 324.8 L701.6 327.8 Q701.2 330.0 700.9 332.2 L700.4 335.2 Q700.0 337.5 698.9 339.4 L697.4 341.9 Q696.2 343.8 694.8 341.9 L692.8 339.4 Q691.2 337.5 690.0 335.2 L688.3 332.2 Q687.0 330.0 686.2 327.8 L685.2 324.8 Q684.5 322.5 684.0 320.2 L683.5 317.2 Q683.0 315.0 682.9 313.5 L682.6 311.5 Q682.5 310.0 682.4 307.8 L682.1 304.8 Q682.0 302.5 681.4 302.4 L680.6 302.1 Q680.0 302.0 679.6 302.8 L679.1 303.8 Q678.8 304.5 678.2 304.1 L677.5 303.4 Q677.0 303.0 676.8 302.2 L676.5 301.2 Q676.2 300.5 675.5 300.0 L674.5 299.3 Q673.8 298.8 672.6 297.8 L671.1 296.5 Q670.0 295.5 668.5 294.8 L666.5 293.8 Q665.0 293.0 662.8 292.9 L659.8 292.6 Q657.5 292.5 655.2 292.4 L652.2 292.1 Q650.0 292.0 648.5 291.8 L646.5 291.5 Q645.0 291.2 644.6 290.5 L644.1 289.5 Q643.8 288.8 643.0 288.2 L642.0 287.5 Q641.2 287.0 639.8 287.1 L637.8 287.4 Q636.2 287.5 635.1 287.1 L633.6 286.6 Q632.5 286.2 631.6 285.1 L630.4 283.6 Q629.5 282.5 628.5 281.1 L627.2 279.4 Q626.2 278.0 625.3 277.7 L624.0 277.3 Q623.0 277.0 621.7 277.6 L620.0 278.4 Q618.8 279.0 617.6 276.3 L616.1 272.7 Q615.0 270.0 615.0 252.0Z M701.2 343.8 L703.8 346.2 L704.2 350.0 L702.0 351.2 L700.5 348.0Z M773.8 310.0 L777.5 309.5 L778.0 312.5 L774.5 313.2Z M805.0 295.0 L807.0 297.5 L806.2 302.5 L804.5 301.2Z M805.0 316.5 Q805.0 315.0 806.1 315.0 L807.6 315.0 Q808.8 315.0 809.1 316.5 L809.6 318.5 Q810.0 320.0 810.8 321.5 L811.8 323.5 Q812.5 325.0 813.6 326.5 L815.1 328.5 Q816.2 330.0 815.5 330.4 L814.5 330.9 Q813.8 331.2 812.6 330.1 L811.1 328.6 Q810.0 327.5 808.9 326.4 L807.4 324.9 Q806.2 323.8 805.9 322.6 L805.4 321.1 Q805.0 320.0 805.0 318.5Z M810.0 345.0 L817.5 343.8 L818.8 348.8 L813.8 351.2 L810.0 348.8Z M860.7 192.9 Q861.0 192.5 861.5 194.0 L862.0 196.0 Q862.5 197.5 862.8 199.8 L863.2 202.8 Q863.5 205.0 864.1 207.2 L864.9 210.2 Q865.5 212.5 864.9 212.9 L864.1 213.4 Q863.5 213.8 863.2 215.6 L862.8 218.1 Q862.5 220.0 862.0 220.8 L861.5 221.8 Q861.0 222.5 860.9 220.2 L860.6 217.2 Q860.5 215.0 860.4 212.8 L860.1 209.8 Q860.0 207.5 859.9 205.2 L859.6 202.2 Q859.5 200.0 859.6 198.1 L859.9 195.6 Q860.0 193.8 860.3 193.4Z M854.6 235.2 Q854.2 233.8 855.4 232.2 L856.9 230.2 Q858.0 228.8 858.9 228.0 L860.1 227.0 Q861.0 226.2 862.0 227.0 L863.3 228.0 Q864.2 228.8 865.4 229.1 L866.9 229.6 Q868.0 230.0 867.9 230.9 L867.6 232.1 Q867.5 233.0 866.1 233.8 L864.4 234.8 Q863.0 235.5 861.9 236.2 L860.4 237.2 Q859.2 238.0 858.1 238.2 L856.6 238.5 Q855.5 238.8 855.1 237.2Z M853.9 243.4 Q854.2 242.5 855.4 242.3 L856.9 242.2 Q858.0 242.0 858.4 243.7 L858.9 245.8 Q859.2 247.5 858.7 249.4 L858.0 251.9 Q857.5 253.8 856.9 256.0 L856.1 259.0 Q855.5 261.2 854.0 261.8 L852.0 262.5 Q850.5 263.0 848.6 263.4 L846.1 264.1 Q844.2 264.5 842.8 263.9 L840.8 263.1 Q839.2 262.5 838.1 263.2 L836.6 264.2 Q835.5 265.0 834.6 266.1 L833.4 267.6 Q832.5 268.8 831.9 270.6 L831.1 273.1 Q830.5 275.0 829.8 274.4 L828.8 273.6 Q828.0 273.0 827.6 271.4 L827.1 269.1 Q826.8 267.5 827.1 266.6 L827.6 265.4 Q828.0 264.5 829.9 263.5 L832.4 262.2 Q834.2 261.2 836.5 260.5 L839.5 259.5 Q841.8 258.8 843.6 257.6 L846.1 256.1 Q848.0 255.0 849.1 253.5 L850.6 251.5 Q851.8 250.0 852.1 248.7 L852.6 246.8 Q853.0 245.5 853.4 244.6Z M897.2 178.4 Q898.0 175.0 902.1 175.0 L907.6 175.0 Q911.8 175.0 912.0 177.6 L912.3 181.1 Q912.5 183.8 911.5 184.9 L910.2 186.4 Q909.2 187.5 908.5 189.0 L907.5 191.0 Q906.8 192.5 905.6 193.6 L904.1 195.1 Q903.0 196.2 901.9 197.8 L900.4 199.8 Q899.2 201.2 898.5 202.2 L897.5 203.5 Q896.8 204.5 896.2 202.8 L895.5 200.5 Q895.0 198.8 894.8 196.9 L894.5 194.4 Q894.2 192.5 894.6 190.6 L895.1 188.1 Q895.5 186.2 896.2 182.9Z M835.9 175.0 Q854.2 175.0 854.2 176.5 L854.2 178.5 Q854.2 180.0 852.4 181.5 L849.9 183.5 Q848.0 185.0 846.4 186.7 L844.1 188.8 Q842.5 190.5 843.4 191.5 L844.6 192.8 Q845.5 193.8 847.4 194.0 L849.9 194.3 Q851.8 194.5 852.9 195.0 L854.4 195.7 Q855.5 196.2 855.9 198.1 L856.4 200.6 Q856.8 202.5 856.4 204.8 L855.9 207.8 Q855.5 210.0 854.8 212.2 L853.8 215.2 Q853.0 217.5 851.9 219.4 L850.4 221.9 Q849.2 223.8 847.8 225.6 L845.8 228.1 Q844.2 230.0 842.8 231.1 L840.8 232.6 Q839.2 233.8 837.8 233.5 L835.8 233.2 Q834.2 233.0 833.1 234.2 L831.6 235.8 Q830.5 237.0 829.1 238.3 L827.4 240.0 Q826.0 241.2 824.0 241.2 L821.3 241.2 Q819.2 241.2 811.4 241.2 L800.9 241.2 Q793.0 241.2 793.0 221.4 L793.0 194.9 Q793.0 175.0 811.4 175.0Z M812.5 398.8 L817.5 395.0 L821.2 394.5 L817.5 398.8 L813.8 400.8Z M877.5 386.2 L882.5 383.0 L885.0 383.8 L881.2 387.5 L878.0 388.2Z M886.2 378.8 L887.5 378.2 L889.5 382.5 L888.2 383.0Z M915.5 432.0 L921.2 434.5 L920.5 436.2 L916.2 434.5Z M786.8 449.8 Q786.2 447.5 786.0 445.6 L785.7 443.1 Q785.5 441.2 786.5 439.8 L787.8 437.8 Q788.8 436.2 790.6 435.1 L793.1 433.6 Q795.0 432.5 796.9 431.4 L799.4 429.9 Q801.2 428.8 803.1 427.6 L805.6 426.1 Q807.5 425.0 808.2 423.9 L809.2 422.4 Q810.0 421.2 811.1 420.5 L812.6 419.5 Q813.8 418.8 814.9 417.2 L816.4 415.2 Q817.5 413.8 819.0 414.5 L821.0 415.5 Q822.5 416.2 824.0 415.9 L826.0 415.4 Q827.5 415.0 828.1 413.1 L828.9 410.6 Q829.5 408.8 831.1 407.6 L833.4 406.1 Q835.0 405.0 836.9 405.0 L839.4 405.0 Q841.2 405.0 843.1 405.8 L845.6 406.8 Q847.5 407.5 846.8 408.6 L845.8 410.1 Q845.0 411.2 844.2 412.4 L843.2 413.9 Q842.5 415.0 844.4 416.1 L846.9 417.6 Q848.8 418.8 850.2 420.2 L852.2 422.2 Q853.8 423.8 854.9 421.1 L856.4 417.6 Q857.5 415.0 858.2 412.8 L859.2 409.8 Q860.0 407.5 860.4 406.4 L860.9 404.9 Q861.2 403.8 862.0 405.6 L863.0 408.1 Q863.8 410.0 864.5 411.9 L865.5 414.4 Q866.2 416.2 866.6 418.1 L867.1 420.6 Q867.5 422.5 868.6 424.4 L870.1 426.9 Q871.2 428.8 872.8 430.2 L874.8 432.2 Q876.2 433.8 877.4 435.6 L878.9 438.1 Q880.0 440.0 881.5 441.1 L883.5 442.6 Q885.0 443.8 885.8 444.9 L886.8 446.4 Q887.5 447.5 887.4 449.8 L887.1 452.8 Q887.0 455.0 886.8 456.5 L886.5 458.5 Q886.2 460.0 857.8 460.0 L819.8 460.0 Q791.2 460.0 790.3 458.5 L789.0 456.5 Q788.0 455.0 787.5 452.8Z M788.9 439.0 Q790.0 437.5 792.2 436.0 L795.2 434.0 Q797.5 432.5 799.8 430.6 L802.8 428.1 Q805.0 426.2 806.5 424.8 L808.5 422.8 Q810.0 421.2 811.1 420.9 L812.6 420.4 Q813.8 420.0 830.6 420.0 L853.1 420.0 Q870.0 420.0 870.8 421.9 L871.8 424.4 Q872.5 426.2 873.6 427.8 L875.1 429.8 Q876.2 431.2 877.2 432.8 L878.5 434.8 Q879.5 436.2 880.8 437.8 L882.5 439.8 Q883.8 441.2 884.7 442.8 L886.0 444.8 Q887.0 446.2 886.9 448.5 L886.8 451.5 Q886.8 453.8 886.4 456.0 L885.9 459.0 Q885.5 461.2 885.0 463.1 L884.3 465.6 Q883.8 467.5 883.2 469.4 L882.5 471.9 Q882.0 473.8 881.2 475.6 L880.2 478.1 Q879.5 480.0 878.9 481.6 L878.1 483.9 Q877.5 485.5 876.4 485.9 L874.9 486.6 Q873.8 487.0 872.2 487.5 L870.2 488.2 Q868.8 488.8 867.2 489.3 L865.2 490.0 Q863.8 490.5 862.2 490.0 L860.2 489.3 Q858.8 488.8 857.2 487.8 L855.2 486.5 Q853.8 485.5 852.8 484.2 L851.5 482.5 Q850.5 481.2 850.0 479.8 L849.3 477.8 Q848.8 476.2 848.5 474.8 L848.2 472.8 Q848.0 471.2 847.5 471.5 L846.8 471.8 Q846.2 472.0 845.5 473.6 L844.5 475.9 Q843.8 477.5 842.6 476.4 L841.1 474.9 Q840.0 473.8 838.1 472.6 L835.6 471.1 Q833.8 470.0 831.5 469.4 L828.5 468.6 Q826.2 468.0 824.0 468.6 L821.0 469.4 Q818.8 470.0 816.5 470.9 L813.5 472.1 Q811.2 473.0 809.0 473.8 L806.0 474.8 Q803.8 475.5 801.9 476.5 L799.4 477.8 Q797.5 478.8 796.0 478.0 L794.0 477.0 Q792.5 476.2 792.1 474.8 L791.6 472.8 Q791.2 471.2 790.9 469.0 L790.4 466.0 Q790.0 463.8 789.4 461.5 L788.6 458.5 Q788.0 456.2 787.2 454.0 L786.2 451.0 Q785.5 448.8 785.7 446.9 L786.0 444.4 Q786.2 442.5 787.4 441.0Z M866.4 499.5 Q866.2 498.8 867.8 498.6 L869.8 498.4 Q871.2 498.2 872.4 498.6 L873.9 499.1 Q875.0 499.5 874.6 500.8 L874.1 502.5 Q873.8 503.8 873.0 504.4 L872.0 505.1 Q871.2 505.8 870.3 505.4 L869.0 504.9 Q868.0 504.5 867.6 503.5 L867.1 502.2 Q866.8 501.2 866.6 500.5Z M937.1 479.0 Q937.0 478.0 937.8 479.0 L938.8 480.3 Q939.5 481.2 940.2 482.5 L941.2 484.2 Q942.0 485.5 943.3 485.9 L945.0 486.6 Q946.2 487.0 947.2 487.5 L948.5 488.2 Q949.5 488.8 948.9 489.9 L948.1 491.4 Q947.5 492.5 946.9 493.2 L946.1 494.2 Q945.5 495.0 945.0 495.9 L944.3 497.1 Q943.8 498.0 943.0 497.1 L942.0 495.9 Q941.2 495.0 941.0 493.5 L940.7 491.5 Q940.5 490.0 940.0 488.5 L939.5 486.5 Q939.0 485.0 938.5 483.9 L938.0 482.4 Q937.5 481.2 937.4 480.3Z M937.1 499.8 Q938.0 499.5 938.5 500.4 L939.0 501.6 Q939.5 502.5 938.5 503.6 L937.2 505.1 Q936.2 506.2 935.5 507.8 L934.5 509.8 Q933.8 511.2 932.6 512.4 L931.1 513.9 Q930.0 515.0 928.9 515.9 L927.4 517.1 Q926.2 518.0 925.1 517.7 L923.6 517.3 Q922.5 517.0 923.1 515.8 L923.9 514.2 Q924.5 513.0 925.5 511.7 L927.0 510.0 Q928.0 508.8 929.2 507.5 L930.8 505.8 Q932.0 504.5 932.9 503.3 L934.1 501.7 Q935.0 500.5 935.9 500.2Z M521.3 163.2 Q521.9 153.8 522.6 153.3 L523.5 152.7 Q524.2 152.2 525.4 151.5 L527.0 150.6 Q528.2 149.9 529.4 148.7 L530.9 147.1 Q532.1 145.9 533.3 144.5 L534.9 142.6 Q536.0 141.2 537.5 139.8 L539.3 137.9 Q540.8 136.5 542.2 135.3 L544.1 133.8 Q545.5 132.6 547.4 131.6 L549.9 130.4 Q551.8 129.4 553.6 128.7 L556.2 127.8 Q558.1 127.1 559.9 126.6 L562.5 126.0 Q564.3 125.5 566.7 126.0 L569.8 126.6 Q572.2 127.1 574.6 128.0 L577.7 129.3 Q580.1 130.2 582.4 131.2 L585.6 132.4 Q587.9 133.4 590.3 134.3 L593.4 135.6 Q595.8 136.5 597.4 137.7 L599.6 139.3 Q601.3 140.4 601.8 141.4 L602.4 142.6 Q602.9 143.6 603.6 144.8 L604.5 146.3 Q605.2 147.5 606.2 146.3 L607.4 144.8 Q608.4 143.6 609.3 142.2 L610.6 140.3 Q611.5 138.9 611.7 138.2 L612.1 137.2 Q612.3 136.5 613.0 137.7 L613.9 139.3 Q614.7 140.4 616.1 140.9 L618.0 141.5 Q619.4 142.0 620.8 141.1 L622.7 139.8 Q624.1 138.9 625.9 138.4 L628.3 137.8 Q630.1 137.3 630.8 136.6 L631.8 135.7 Q632.5 135.0 634.8 134.6 L637.8 134.1 Q640.0 133.8 641.9 133.4 L644.4 132.9 Q646.2 132.5 647.4 133.2 L648.9 134.2 Q650.0 135.0 651.1 134.2 L652.6 133.2 Q653.8 132.5 654.9 132.1 L656.4 131.6 Q657.5 131.2 659.0 131.6 L661.0 132.1 Q662.5 132.5 664.0 132.9 L666.0 133.4 Q667.5 133.8 669.0 134.5 L671.0 135.5 Q672.5 136.2 672.9 135.1 L673.4 133.6 Q673.8 132.5 673.0 131.0 L672.0 129.0 Q671.2 127.5 670.7 126.4 L670.0 124.9 Q669.5 123.8 670.4 122.6 L671.6 121.1 Q672.5 120.0 674.0 118.9 L676.0 117.4 Q677.5 116.2 678.6 116.6 L680.1 117.1 Q681.2 117.5 681.6 119.0 L682.1 121.0 Q682.5 122.5 682.9 123.2 L683.4 124.2 Q683.8 125.0 684.1 127.2 L684.6 130.2 Q685.0 132.5 684.6 134.4 L684.1 136.9 Q683.8 138.8 683.0 140.2 L682.0 142.2 Q681.2 143.8 680.1 144.1 L678.6 144.6 Q677.5 145.0 678.2 145.6 L679.2 146.4 Q680.0 147.0 681.5 146.4 L683.5 145.6 Q685.0 145.0 685.8 143.5 L686.8 141.5 Q687.5 140.0 687.9 138.5 L688.4 136.5 Q688.8 135.0 689.9 135.4 L691.4 135.9 Q692.5 136.2 693.6 137.8 L695.1 139.8 Q696.2 141.2 697.0 141.5 L698.0 141.8 Q698.8 142.0 698.4 140.7 L697.9 138.8 Q697.5 137.5 696.4 136.4 L694.9 134.9 Q693.8 133.8 692.6 133.0 L691.1 132.0 Q690.0 131.2 689.2 129.8 L688.2 127.8 Q687.5 126.2 687.1 124.8 L686.6 122.8 Q686.2 121.2 687.0 120.5 L688.0 119.5 Q688.8 118.8 689.9 119.9 L691.4 121.4 Q692.5 122.5 693.9 123.1 L695.6 123.9 Q697.0 124.5 697.9 123.9 L699.1 123.1 Q700.0 122.5 701.1 122.1 L702.6 121.6 Q703.8 121.2 705.2 122.0 L707.2 123.0 Q708.8 123.8 709.1 124.9 L709.6 126.4 Q710.0 127.5 710.2 126.4 L710.5 124.9 Q710.8 123.8 710.1 122.2 L709.4 120.2 Q708.8 118.8 707.6 117.8 L706.1 116.5 Q705.0 115.5 706.5 115.0 L708.5 114.3 Q710.0 113.8 711.9 114.0 L714.4 114.3 Q716.2 114.5 717.0 113.2 L718.0 111.3 Q718.8 110.0 720.6 109.2 L723.1 108.2 Q725.0 107.5 728.0 106.9 L732.0 106.1 Q735.0 105.5 738.0 105.0 L742.0 104.3 Q745.0 103.8 747.2 103.2 L750.2 102.5 Q752.5 102.0 754.0 101.4 L756.0 100.6 Q757.5 100.0 758.2 98.7 L759.2 96.8 Q760.0 95.5 761.5 95.2 L763.5 94.8 Q765.0 94.5 766.1 95.5 L767.6 97.0 Q768.8 98.0 771.4 98.2 L774.9 98.5 Q777.5 98.8 779.8 99.5 L782.8 100.5 Q785.0 101.2 785.4 102.0 L785.9 103.0 Q786.2 103.8 785.1 104.5 L783.6 105.5 Q782.5 106.2 781.0 107.0 L779.0 108.0 Q777.5 108.8 776.0 109.9 L774.0 111.4 Q772.5 112.5 771.0 113.4 L769.0 114.6 Q767.5 115.5 769.0 115.7 L771.0 116.0 Q772.5 116.2 774.8 115.7 L777.8 115.0 Q780.0 114.5 782.2 114.3 L785.2 114.0 Q787.5 113.8 789.8 113.8 L792.8 113.8 Q795.0 113.8 797.2 114.3 L800.2 115.0 Q802.5 115.5 804.8 115.3 L807.8 115.2 Q810.0 115.0 812.4 114.4 L815.6 113.6 Q818.0 113.0 819.9 113.6 L822.4 114.4 Q824.2 115.0 824.6 116.5 L825.1 118.5 Q825.5 120.0 827.0 121.5 L829.0 123.5 Q830.5 125.0 831.6 125.6 L833.1 126.4 Q834.2 127.0 834.8 125.8 L835.5 124.2 Q836.0 123.0 838.1 123.2 L840.9 123.5 Q843.0 123.8 845.2 123.5 L848.2 123.2 Q850.5 123.0 851.9 122.8 L853.6 122.7 Q855.0 122.5 855.1 121.2 L855.4 119.3 Q855.5 118.0 859.2 118.0 L864.2 118.0 Q868.0 118.0 868.1 119.0 L868.4 120.3 Q868.5 121.2 869.9 120.9 L871.6 120.4 Q873.0 120.0 874.5 120.0 L876.5 120.0 Q878.0 120.0 879.1 121.1 L880.6 122.6 Q881.8 123.8 882.9 124.5 L884.4 125.5 Q885.5 126.2 887.8 126.0 L890.8 125.7 Q893.0 125.5 896.0 125.7 L900.0 126.0 Q903.0 126.2 903.8 127.5 L904.8 129.2 Q905.5 130.5 907.8 130.9 L910.8 131.6 Q913.0 132.0 916.0 132.2 L920.0 132.3 Q923.0 132.5 925.2 133.2 L928.2 134.2 Q930.5 135.0 930.9 133.3 L931.4 131.2 Q931.8 129.5 934.4 129.8 L937.9 130.2 Q940.5 130.5 943.5 131.1 L947.5 131.9 Q950.5 132.5 953.1 133.4 L956.6 134.6 Q959.2 135.5 961.1 136.7 L963.6 138.3 Q965.5 139.5 966.6 141.0 L968.1 143.0 Q969.2 144.5 970.4 143.8 L971.9 142.8 Q973.0 142.0 975.2 142.9 L978.2 144.1 Q980.5 145.0 980.6 145.6 L980.9 146.4 Q981.0 147.0 979.4 148.1 L977.1 149.4 Q975.5 150.5 975.1 151.7 L974.6 153.3 Q974.2 154.5 972.8 153.5 L970.8 152.2 Q969.2 151.2 968.1 150.5 L966.6 149.5 Q965.5 148.8 963.6 148.0 L961.1 147.0 Q959.2 146.2 958.5 147.4 L957.5 148.9 Q956.8 150.0 955.6 150.6 L954.1 151.4 Q953.0 152.0 951.1 151.8 L948.6 151.5 Q946.8 151.2 947.9 152.4 L949.4 153.9 Q950.5 155.0 951.2 156.1 L952.2 157.6 Q953.0 158.8 952.9 159.9 L952.6 161.4 Q952.5 162.5 950.8 162.5 L948.5 162.5 Q946.8 162.5 944.9 163.1 L942.4 163.9 Q940.5 164.5 938.6 165.4 L936.1 166.6 Q934.2 167.5 933.1 168.2 L931.6 169.2 Q930.5 170.0 929.0 169.4 L927.0 168.6 Q925.5 168.0 923.6 168.4 L921.1 169.1 Q919.2 169.5 917.8 170.2 L915.8 171.2 Q914.2 172.0 913.5 173.3 L912.5 175.0 Q911.8 176.2 911.4 178.1 L910.9 180.6 Q910.5 182.5 910.6 184.0 L910.9 186.0 Q911.0 187.5 910.1 189.0 L908.9 191.0 Q908.0 192.5 906.9 194.0 L905.4 196.0 Q904.2 197.5 903.5 199.4 L902.5 201.9 Q901.8 203.8 899.5 203.8 L896.5 203.8 Q894.2 203.8 894.2 200.4 L894.2 195.9 Q894.2 192.5 894.6 190.6 L895.1 188.1 Q895.5 186.2 896.2 184.8 L897.2 182.8 Q898.0 181.2 899.5 179.8 L901.5 177.8 Q903.0 176.2 904.5 174.8 L906.5 172.8 Q908.0 171.2 909.5 169.8 L911.5 167.8 Q913.0 166.2 914.1 165.1 L915.6 163.6 Q916.8 162.5 916.4 161.9 L915.9 161.1 Q915.5 160.5 914.4 161.2 L912.9 162.2 Q911.8 163.0 910.6 164.2 L909.1 165.8 Q908.0 167.0 906.9 167.9 L905.4 169.1 Q904.2 170.0 904.6 168.7 L905.1 166.8 Q905.5 165.5 904.8 165.0 L903.8 164.3 Q903.0 163.8 901.1 164.5 L898.6 165.5 Q896.8 166.2 895.2 167.8 L893.2 169.8 Q891.8 171.2 891.0 172.2 L890.0 173.5 Q889.2 174.5 887.4 174.3 L884.9 174.0 Q883.0 173.8 881.5 173.5 L879.5 173.2 Q878.0 173.0 875.8 173.2 L872.8 173.5 Q870.5 173.8 868.6 173.5 L866.1 173.2 Q864.2 173.0 862.4 174.3 L859.9 176.2 Q858.0 177.5 856.1 179.0 L853.6 181.0 Q851.8 182.5 850.0 184.0 L847.7 186.0 Q846.0 187.5 845.0 188.4 L843.5 189.6 Q842.5 190.5 842.5 197.8 L842.5 207.7 Q842.5 215.0 745.8 215.0 L616.8 215.0 Q520.0 215.0 520.0 206.0 L520.0 194.0 Q520.0 185.0 520.6 175.6Z M632.9 122.0 Q632.5 121.2 633.2 119.8 L634.2 117.8 Q635.0 116.2 636.5 114.8 L638.5 112.8 Q640.0 111.2 641.5 109.8 L643.5 107.8 Q645.0 106.2 647.2 105.5 L650.2 104.5 Q652.5 103.8 655.5 103.0 L659.5 102.0 Q662.5 101.2 665.5 100.7 L669.5 99.8 Q672.5 99.2 672.6 99.6 L672.9 100.1 Q673.0 100.5 670.6 101.5 L667.4 102.8 Q665.0 103.8 662.4 104.5 L658.9 105.5 Q656.2 106.2 654.0 107.0 L651.0 108.0 Q648.8 108.8 647.2 110.2 L645.2 112.2 Q643.8 113.8 642.6 115.2 L641.1 117.2 Q640.0 118.8 640.4 120.6 L640.9 123.1 Q641.2 125.0 640.1 125.2 L638.6 125.5 Q637.5 125.8 636.4 125.2 L634.9 124.3 Q633.8 123.8 633.4 123.0Z M615.5 76.2 L620.0 74.5 L623.0 77.0 L621.2 80.5 L617.0 79.5Z M624.8 77.5 Q624.5 76.2 625.8 75.9 L627.5 75.4 Q628.8 75.0 630.2 75.4 L632.2 75.9 Q633.8 76.2 635.2 75.9 L637.2 75.4 Q638.8 75.0 639.1 75.9 L639.6 77.1 Q640.0 78.0 638.5 78.6 L636.5 79.4 Q635.0 80.0 633.5 79.8 L631.5 79.7 Q630.0 79.5 628.6 79.8 L626.9 80.2 Q625.5 80.5 625.2 79.2Z M643.8 73.8 L647.5 72.5 L649.5 75.0 L646.2 79.5 L643.8 77.5Z M651.2 77.0 L656.2 75.0 L655.5 78.0 L652.0 79.5Z M735.0 76.2 L740.0 74.5 L745.0 76.2 L743.8 79.5 L738.0 78.8Z M732.9 81.8 Q732.5 81.2 735.5 81.6 L739.5 82.1 Q742.5 82.5 744.8 82.3 L747.8 82.2 Q750.0 82.0 750.4 83.7 L750.9 85.8 Q751.2 87.5 749.8 87.7 L747.8 87.8 Q746.2 88.0 744.4 87.1 L741.9 85.9 Q740.0 85.0 738.1 84.4 L735.6 83.6 Q733.8 83.0 733.4 82.5Z M753.8 88.8 L760.0 85.5 L765.0 87.5 L762.5 90.5 L755.0 92.0Z M558.8 79.5 L563.8 80.0 L566.2 82.0 L562.5 84.0 L558.8 83.5Z M849.2 103.8 L854.2 102.0 L859.2 104.5 L858.0 107.5 L851.8 107.0Z M861.8 103.0 L866.8 103.0 L867.0 104.8 L862.5 105.0Z M873.0 105.0 L878.0 105.5 L878.0 106.8 L873.2 106.2Z M856.8 110.8 L861.8 113.8 L857.5 114.5Z M953.0 125.0 L960.5 123.8 L961.0 125.5 L954.2 126.2Z M520.0 180.0 L640.0 150.0 L870.0 130.0 L930.0 140.0 L920.0 160.0 L880.0 165.0 L850.0 175.0 L835.0 190.0 L830.0 225.0 L800.0 238.0 L790.0 280.0 L640.0 290.0 L600.0 250.0 L560.0 235.0 L530.0 225.0Z M485.7 178.8 Q485.9 177.9 487.6 177.6 L489.8 177.3 Q491.4 177.1 491.2 178.7 L490.9 180.9 Q490.7 182.6 491.6 184.0 L492.9 185.9 Q493.8 187.3 494.7 189.2 L496.0 191.7 Q496.9 193.6 497.9 195.2 L499.2 197.4 Q500.1 199.1 500.6 200.5 L501.2 202.4 Q501.7 203.8 500.7 204.7 L499.5 206.0 Q498.5 206.9 496.4 207.2 L493.6 207.5 Q491.4 207.7 489.8 208.2 L487.6 208.8 Q485.9 209.3 486.9 207.9 L488.1 206.0 Q489.1 204.6 488.4 203.4 L487.4 201.8 Q486.7 200.7 487.7 199.2 L488.9 197.4 Q489.9 195.9 489.2 194.5 L488.2 192.6 Q487.5 191.2 487.0 189.6 L486.4 187.4 Q485.9 185.7 485.7 184.3 L485.4 182.4 Q485.2 181.0 485.4 180.1Z M473.4 196.7 L478.1 191.2 L482.0 193.6 L481.2 199.1 L477.3 202.2 L473.4 201.4Z M535.8 158.8 Q540.0 150.0 558.0 159.0 L582.0 171.0 Q600.0 180.0 600.0 196.5 L600.0 218.5 Q600.0 235.0 590.7 239.6 L578.3 245.7 Q569.1 250.3 568.1 251.0 L566.9 252.0 Q565.9 252.7 565.0 252.4 L563.7 252.1 Q562.8 251.9 562.1 252.4 L561.1 253.0 Q560.4 253.5 559.7 254.4 L558.8 255.7 Q558.1 256.6 557.8 257.8 L557.5 259.4 Q557.3 260.5 556.6 261.0 L555.6 261.6 Q554.9 262.1 554.4 260.9 L553.8 259.4 Q553.3 258.2 552.9 257.0 L552.2 255.4 Q551.8 254.2 551.5 253.1 L551.2 251.5 Q551.0 250.3 550.5 249.1 L549.9 247.6 Q549.4 246.4 548.7 245.2 L547.8 243.6 Q547.0 242.5 545.9 241.3 L544.3 239.7 Q543.1 238.5 542.2 237.1 L540.9 235.2 Q540.0 233.8 538.8 232.4 L537.2 230.5 Q536.0 229.1 535.1 228.1 L533.8 226.9 Q532.9 225.9 532.2 225.7 L531.2 225.4 Q530.5 225.2 530.3 225.6 L530.0 226.3 Q529.7 226.7 530.2 227.9 L530.8 229.5 Q531.3 230.7 532.0 232.1 L533.0 234.0 Q533.7 235.4 534.6 236.8 L535.9 238.7 Q536.8 240.1 537.8 241.3 L539.0 242.8 Q540.0 244.0 540.9 245.0 L542.2 246.2 Q543.1 247.2 543.8 247.6 L544.8 248.3 Q545.5 248.7 545.0 249.8 L544.4 251.2 Q543.9 252.2 543.2 252.7 L542.2 253.4 Q541.5 253.9 540.8 252.8 L539.9 251.4 Q539.2 250.3 538.2 249.1 L537.0 247.6 Q536.0 246.4 534.6 245.2 L532.7 243.6 Q531.3 242.5 530.1 241.0 L528.6 239.2 Q527.4 237.7 526.7 236.6 L525.7 235.0 Q525.0 233.8 524.6 233.2 L523.9 232.5 Q523.5 231.9 522.8 232.2 L522.0 232.6 Q521.3 232.9 519.7 232.7 L517.5 232.3 Q515.8 232.1 514.1 232.7 L511.7 233.4 Q510.0 234.0 508.9 234.9 L507.5 236.2 Q506.4 237.1 505.2 238.3 L503.6 239.9 Q502.5 241.1 501.3 242.5 L499.7 244.4 Q498.5 245.8 497.6 247.2 L496.3 249.1 Q495.4 250.5 493.3 251.9 L490.4 253.8 Q488.3 255.2 486.9 256.0 L485.0 257.0 Q483.6 257.7 482.6 257.9 L481.4 258.2 Q480.4 258.4 479.5 257.6 L478.2 256.5 Q477.3 255.7 476.6 254.0 L475.6 251.8 Q474.9 250.2 475.4 248.8 L476.0 246.9 Q476.5 245.5 476.3 243.6 L476.0 241.1 Q475.7 239.2 476.2 237.8 L476.8 235.9 Q477.3 234.5 479.2 234.0 L481.7 233.4 Q483.6 232.9 485.5 232.9 L488.0 232.9 Q489.9 232.9 491.1 232.7 L492.6 232.3 Q493.8 232.1 494.3 230.9 L494.9 229.4 Q495.4 228.2 494.9 226.8 L494.3 224.9 Q493.8 223.5 493.6 222.0 L493.3 220.2 Q493.0 218.7 491.6 217.8 L489.7 216.5 Q488.3 215.6 490.0 214.7 L492.2 213.4 Q493.8 212.5 495.0 211.7 L496.6 210.8 Q497.7 210.1 499.2 209.4 L501.0 208.4 Q502.5 207.7 503.9 206.6 L505.8 205.0 Q507.2 203.8 508.6 202.6 L510.5 201.1 Q511.9 199.9 514.2 196.6 L517.4 192.2 Q519.7 188.9 521.6 186.0 L524.2 182.3 Q526.0 179.4 530.2 170.6Z M527.4 255.0 L532.9 252.7 L536.8 254.2 L535.3 258.2 L530.5 260.5 L526.9 258.5Z M556.3 245.7 Q556.0 243.0 558.7 242.1 L562.3 240.9 Q565.0 240.0 569.5 240.0 L575.5 240.0 Q580.0 240.0 586.0 239.4 L594.0 238.6 Q600.0 238.0 604.5 238.6 L610.5 239.4 Q615.0 240.0 615.0 246.0 L615.0 254.0 Q615.0 260.0 607.5 259.4 L597.5 258.6 Q590.0 258.0 589.4 257.4 L588.6 256.6 Q588.0 256.0 584.1 256.3 L578.9 256.7 Q575.0 257.0 572.0 256.4 L568.0 255.6 Q565.0 255.0 562.6 254.1 L559.4 252.9 Q557.0 252.0 556.7 249.3Z M475.0 318.0 L600.0 318.0 L622.0 340.0 L622.0 350.0 L520.0 356.0 L475.0 346.0Z M198.5 159.4 Q198.5 138.8 209.8 138.8 L224.8 138.8 Q236.0 138.8 239.8 139.1 L244.8 139.6 Q248.5 140.0 252.2 139.6 L257.2 139.1 Q261.0 138.8 263.2 137.6 L266.2 136.1 Q268.5 135.0 270.0 135.4 L272.0 135.9 Q273.5 136.2 275.0 135.3 L277.0 134.1 Q278.5 133.1 280.0 132.8 L282.0 132.2 Q283.5 131.9 285.0 132.2 L287.0 132.8 Q288.5 133.1 288.9 134.4 L289.4 136.2 Q289.8 137.5 289.6 139.0 L289.3 141.0 Q289.1 142.5 288.9 143.6 L288.7 145.1 Q288.5 146.2 289.1 147.2 L289.8 148.4 Q290.4 149.4 290.6 150.7 L290.8 152.4 Q291.0 153.8 291.2 155.2 L291.4 157.2 Q291.6 158.8 291.1 159.4 L290.3 160.3 Q289.8 161.0 288.4 161.3 L286.7 161.6 Q285.4 161.9 284.1 161.1 L282.3 160.1 Q281.0 159.4 280.2 158.8 L279.2 158.1 Q278.5 157.5 278.7 156.4 L278.9 154.9 Q279.1 153.8 278.8 152.6 L278.2 151.1 Q277.9 150.0 276.6 149.7 L274.8 149.3 Q273.5 149.0 272.4 149.3 L270.9 149.7 Q269.8 150.0 268.6 151.1 L267.1 152.6 Q266.0 153.8 265.1 154.9 L263.8 156.4 Q262.9 157.5 262.1 158.6 L261.1 160.1 Q260.4 161.2 259.6 162.6 L258.6 164.3 Q257.9 165.6 257.3 166.9 L256.6 168.7 Q256.0 170.0 256.2 171.5 L256.4 173.5 Q256.6 175.0 257.4 176.1 L258.4 177.6 Q259.1 178.8 259.9 179.9 L260.9 181.4 Q261.6 182.5 262.0 183.6 L262.5 185.1 Q262.9 186.2 263.2 187.4 L263.8 188.9 Q264.1 190.0 264.1 195.2 L264.1 202.2 Q264.1 207.5 244.4 207.5 L218.2 207.5 Q198.5 207.5 198.5 186.9Z M361.7 66.6 Q360.0 66.2 363.0 65.1 L367.0 63.6 Q370.0 62.5 373.0 62.4 L377.0 62.1 Q380.0 62.0 383.0 61.8 L387.0 61.5 Q390.0 61.2 393.8 61.0 L398.8 60.7 Q402.5 60.5 406.2 60.7 L411.2 61.0 Q415.0 61.2 418.0 62.0 L422.0 63.0 Q425.0 63.8 428.8 64.3 L433.8 65.0 Q437.5 65.5 441.2 66.2 L446.2 67.2 Q450.0 68.0 453.0 68.8 L457.0 69.8 Q460.0 70.5 461.9 71.2 L464.4 72.2 Q466.2 73.0 464.0 74.0 L461.0 75.3 Q458.8 76.2 456.9 77.0 L454.4 78.0 Q452.5 78.8 452.1 80.2 L451.6 82.2 Q451.2 83.8 450.5 84.9 L449.5 86.4 Q448.8 87.5 449.1 89.0 L449.6 91.0 Q450.0 92.5 448.9 94.0 L447.4 96.0 Q446.2 97.5 445.9 99.4 L445.4 101.9 Q445.0 103.8 443.5 105.2 L441.5 107.2 Q440.0 108.8 439.2 109.9 L438.2 111.4 Q437.5 112.5 436.4 113.6 L434.9 115.1 Q433.8 116.2 433.4 117.8 L432.9 119.8 Q432.5 121.2 431.8 122.4 L430.8 123.9 Q430.0 125.0 428.9 126.1 L427.4 127.6 Q426.2 128.8 425.1 129.9 L423.6 131.4 Q422.5 132.5 421.4 133.6 L419.9 135.1 Q418.8 136.2 416.9 137.4 L414.4 138.9 Q412.5 140.0 410.2 141.1 L407.2 142.6 Q405.0 143.8 402.8 144.9 L399.8 146.4 Q397.5 147.5 395.6 148.6 L393.1 150.1 Q391.2 151.2 390.1 152.8 L388.6 154.8 Q387.5 156.2 386.9 158.1 L386.1 160.6 Q385.5 162.5 385.2 164.6 L384.8 167.4 Q384.5 169.5 383.1 168.2 L381.4 166.3 Q380.0 165.0 378.9 163.5 L377.4 161.5 Q376.2 160.0 375.1 158.5 L373.6 156.5 Q372.5 155.0 371.4 153.1 L369.9 150.6 Q368.8 148.8 368.0 146.9 L367.0 144.4 Q366.2 142.5 365.9 140.2 L365.4 137.2 Q365.0 135.0 365.4 133.5 L365.9 131.5 Q366.2 130.0 365.5 127.8 L364.5 124.8 Q363.8 122.5 362.6 120.6 L361.1 118.1 Q360.0 116.2 358.9 114.4 L357.4 111.9 Q356.2 110.0 354.8 108.1 L352.8 105.6 Q351.2 103.8 350.5 103.4 L349.5 102.9 Q348.8 102.5 346.9 102.3 L344.4 102.1 Q342.5 101.9 340.2 102.1 L337.2 102.3 Q335.0 102.5 332.8 102.7 L329.8 102.9 Q327.5 103.1 326.4 102.8 L324.9 102.2 Q323.8 101.9 322.6 101.1 L321.1 100.1 Q320.0 99.4 321.5 99.0 L323.5 98.5 Q325.0 98.1 325.8 97.6 L326.8 96.8 Q327.5 96.2 326.4 95.9 L324.9 95.4 Q323.8 95.0 321.9 94.8 L319.4 94.6 Q317.5 94.4 316.8 93.8 L315.8 93.1 Q315.0 92.5 316.9 91.9 L319.4 91.2 Q321.2 90.6 323.1 90.1 L325.6 89.3 Q327.5 88.8 329.0 88.0 L331.0 87.0 Q332.5 86.2 333.2 85.2 L334.2 83.8 Q335.0 82.8 333.9 82.6 L332.4 82.4 Q331.2 82.2 330.1 82.0 L328.6 81.5 Q327.5 81.2 328.2 80.9 L329.2 80.4 Q330.0 80.0 331.5 79.6 L333.5 79.1 Q335.0 78.8 336.5 78.2 L338.5 77.4 Q340.0 76.9 340.8 75.9 L341.8 74.7 Q342.5 73.8 343.2 73.4 L344.2 72.9 Q345.0 72.5 346.1 72.7 L347.6 72.9 Q348.8 73.1 350.2 72.8 L352.2 72.2 Q353.8 71.9 354.9 71.5 L356.4 71.0 Q357.5 70.6 358.6 70.4 L360.1 70.2 Q361.2 70.0 362.6 69.2 L364.3 68.2 Q365.6 67.5 363.9 67.1Z M266.1 70.8 Q265.0 70.0 267.2 69.6 L270.2 69.1 Q272.5 68.8 274.8 68.0 L277.8 67.0 Q280.0 66.2 282.2 65.1 L285.2 63.6 Q287.5 62.5 289.4 61.9 L291.9 61.2 Q293.8 60.6 296.4 60.4 L299.9 60.0 Q302.5 59.8 305.5 59.9 L309.5 60.1 Q312.5 60.2 315.5 60.4 L319.5 60.5 Q322.5 60.6 324.8 61.2 L327.8 61.9 Q330.0 62.5 332.2 62.9 L335.2 63.4 Q337.5 63.8 337.9 64.4 L338.6 65.3 Q339.0 66.0 337.8 66.8 L336.2 67.9 Q335.0 68.8 333.5 69.7 L331.5 70.9 Q330.0 71.9 328.5 72.8 L326.5 74.1 Q325.0 75.0 323.5 76.1 L321.5 77.6 Q320.0 78.8 318.5 80.1 L316.5 81.8 Q315.0 83.1 313.5 82.9 L311.5 82.7 Q310.0 82.5 308.5 83.4 L306.5 84.7 Q305.0 85.6 303.9 85.8 L302.4 86.1 Q301.2 86.2 302.0 87.0 L303.0 88.0 Q303.8 88.8 304.1 89.5 L304.6 90.5 Q305.0 91.2 303.5 92.0 L301.5 93.0 Q300.0 93.8 298.5 93.9 L296.5 94.2 Q295.0 94.4 295.8 95.1 L296.8 96.1 Q297.5 96.9 297.7 97.6 L297.9 98.6 Q298.1 99.4 296.4 99.8 L294.2 100.2 Q292.5 100.6 291.0 100.4 L289.0 100.2 Q287.5 100.0 285.6 99.8 L283.1 99.6 Q281.2 99.4 279.4 99.2 L276.9 98.9 Q275.0 98.8 273.9 98.6 L272.4 98.3 Q271.2 98.1 272.0 97.4 L273.0 96.4 Q273.8 95.6 274.9 94.7 L276.4 93.4 Q277.5 92.5 279.0 92.7 L281.0 92.9 Q282.5 93.1 284.0 92.6 L286.0 91.8 Q287.5 91.2 288.2 90.1 L289.2 88.6 Q290.0 87.5 288.9 87.1 L287.4 86.6 Q286.2 86.2 284.8 85.7 L282.8 84.9 Q281.2 84.4 280.3 83.4 L279.1 82.2 Q278.1 81.2 277.2 81.4 L275.9 81.7 Q275.0 81.9 275.4 82.8 L275.9 84.1 Q276.2 85.0 275.5 86.1 L274.5 87.6 Q273.8 88.8 271.9 89.5 L269.4 90.5 Q267.5 91.2 266.0 91.2 L264.0 91.2 Q262.5 91.2 261.8 90.1 L260.8 88.6 Q260.0 87.5 261.1 86.9 L262.6 86.2 Q263.8 85.6 261.9 84.9 L259.4 83.9 Q257.5 83.1 256.9 82.4 L256.2 81.4 Q255.6 80.6 256.9 79.5 L258.7 78.0 Q260.0 76.9 261.5 76.7 L263.5 76.4 Q265.0 76.2 266.9 76.6 L269.4 77.1 Q271.2 77.5 272.0 76.9 L273.0 76.2 Q273.8 75.6 272.2 74.7 L270.2 73.4 Q268.8 72.5 267.6 71.8Z M748.8 330.2 Q748.8 325.0 756.6 325.0 L767.1 325.0 Q775.0 325.0 775.0 328.0 L775.0 332.0 Q775.0 335.0 772.2 337.4 L768.4 340.7 Q765.6 343.1 764.3 341.4 L762.6 339.2 Q761.2 337.5 760.7 336.4 L759.9 334.9 Q759.4 333.8 758.1 333.2 L756.3 332.4 Q755.0 331.9 754.1 332.2 L752.8 332.8 Q751.9 333.1 751.3 334.4 L750.6 336.2 Q750.0 337.5 749.8 339.0 L749.6 341.0 Q749.4 342.5 750.1 344.0 L751.1 346.0 Q751.9 347.5 753.0 348.6 L754.5 350.1 Q755.6 351.2 756.6 352.4 L757.8 353.9 Q758.8 355.0 759.3 356.5 L760.1 358.5 Q760.6 360.0 760.6 361.3 L760.6 363.1 Q760.6 364.4 759.9 364.0 L758.9 363.5 Q758.1 363.1 757.2 361.8 L755.9 360.1 Q755.0 358.8 754.2 357.2 L753.2 355.2 Q752.5 353.8 751.8 351.9 L750.8 349.4 Q750.0 347.5 749.6 346.0 L749.1 344.0 Q748.8 342.5 748.8 337.2Z M742.0 355.9 Q741.5 355.0 742.9 355.4 L744.8 355.9 Q746.2 356.2 747.8 357.8 L749.8 359.8 Q751.2 361.2 752.8 363.1 L754.8 365.6 Q756.2 367.5 757.8 369.4 L759.8 371.9 Q761.2 373.8 763.1 374.8 L765.6 376.2 Q767.5 377.2 767.1 378.8 L766.6 380.9 Q766.2 382.5 765.5 383.4 L764.5 384.7 Q763.8 385.6 762.4 384.7 L760.7 383.4 Q759.4 382.5 758.1 381.0 L756.3 379.0 Q755.0 377.5 753.9 375.6 L752.4 373.1 Q751.2 371.2 749.9 369.0 L748.2 366.0 Q746.9 363.8 745.8 362.1 L744.2 359.8 Q743.1 358.1 742.6 357.2Z M767.0 389.2 Q766.9 388.8 768.6 388.8 L770.8 388.8 Q772.5 388.8 774.8 389.3 L777.8 390.1 Q780.0 390.6 781.5 391.2 L783.5 391.9 Q785.0 392.5 785.8 393.2 L786.8 394.2 Q787.5 395.0 786.4 395.0 L784.9 395.0 Q783.8 395.0 781.9 394.4 L779.4 393.7 Q777.5 393.1 775.2 392.8 L772.2 392.2 Q770.0 391.9 769.2 391.4 L768.1 390.7 Q767.2 390.2 767.1 389.8Z M775.8 368.0 Q775.6 366.9 777.1 365.6 L779.1 363.8 Q780.6 362.5 781.9 361.8 L783.7 360.8 Q785.0 360.0 786.5 358.7 L788.5 356.9 Q790.0 355.6 791.5 354.2 L793.5 352.4 Q795.0 351.0 796.5 352.0 L798.5 353.4 Q800.0 354.4 799.2 355.5 L798.2 357.0 Q797.5 358.1 796.9 358.9 L796.2 359.9 Q795.6 360.6 796.5 361.2 L797.6 361.9 Q798.5 362.5 798.8 363.6 L799.1 365.1 Q799.4 366.2 798.6 367.4 L797.6 368.9 Q796.9 370.0 796.3 371.1 L795.6 372.6 Q795.0 373.8 794.4 375.1 L793.7 376.8 Q793.1 378.1 792.6 379.1 L791.8 380.3 Q791.2 381.2 789.4 381.1 L786.9 380.8 Q785.0 380.6 783.9 380.1 L782.4 379.3 Q781.2 378.8 780.3 377.4 L779.1 375.7 Q778.1 374.4 777.6 373.2 L776.8 371.8 Q776.2 370.6 776.1 369.5Z M803.8 368.1 L810.0 367.2 L814.8 367.2 L814.4 368.1 L810.0 368.8 L805.6 370.0 L804.4 373.1 L808.1 373.1 L811.2 373.8 L811.0 374.8 L806.9 374.8 L805.0 376.2 L806.9 379.4 L808.8 382.5 L809.4 386.2 L808.1 386.2 L806.9 383.1 L805.0 380.0 L803.8 379.4 L803.1 382.5 L803.8 388.1 L802.8 388.1 L801.5 382.5 L801.2 376.2 L801.9 371.2Z M809.4 346.8 Q809.4 346.2 810.7 345.7 L812.4 344.9 Q813.8 344.4 815.1 344.0 L816.8 343.5 Q818.1 343.1 818.4 344.2 L818.7 345.8 Q819.0 346.9 818.5 347.8 L818.0 349.1 Q817.5 350.0 816.8 350.3 L815.8 350.7 Q815.0 351.0 814.7 350.1 L814.3 349.0 Q814.0 348.1 813.2 347.8 L812.1 347.2 Q811.2 346.9 810.7 347.2 L809.9 347.8 Q809.4 348.1 809.4 347.6Z M797.5 343.1 L800.0 338.1 L800.9 338.5 L798.5 343.5Z M823.1 366.5 L824.1 366.5 L824.2 371.2 L823.2 371.2Z M824.8 379.0 L828.8 379.0 L829.0 380.5 L825.0 380.6Z M839.5 348.8 L840.8 348.8 L841.0 352.2 L839.8 352.5Z M833.4 373.9 Q832.5 373.1 833.6 373.3 L835.1 373.6 Q836.2 373.8 837.0 374.1 L838.0 374.6 Q838.8 375.0 839.1 375.8 L839.6 376.8 Q840.0 377.5 840.8 377.7 L841.8 377.9 Q842.5 378.1 843.6 377.8 L845.1 377.2 Q846.2 376.9 847.8 377.2 L849.8 377.8 Q851.2 378.1 853.5 378.7 L856.5 379.4 Q858.8 380.0 858.8 384.5 L858.8 390.5 Q858.8 395.0 857.2 394.6 L855.2 394.1 Q853.8 393.8 852.6 393.0 L851.1 392.0 Q850.0 391.2 850.9 390.5 L852.2 389.5 Q853.1 388.8 852.2 388.0 L850.9 387.0 Q850.0 386.2 848.7 385.1 L846.9 383.6 Q845.6 382.5 844.7 381.8 L843.4 380.8 Q842.5 380.0 841.4 380.0 L839.9 380.0 Q838.8 380.0 838.0 379.4 L837.0 378.7 Q836.2 378.1 836.1 377.4 L835.8 376.4 Q835.6 375.6 834.7 374.9Z M833.2 373.6 Q832.5 372.5 834.8 372.9 L837.8 373.4 Q840.0 373.8 841.1 374.9 L842.6 376.4 Q843.8 377.5 844.5 378.2 L845.5 379.2 Q846.2 380.0 847.4 379.2 L848.9 378.2 Q850.0 377.5 851.9 377.6 L854.4 377.9 Q856.2 378.0 858.9 379.0 L862.4 380.3 Q865.0 381.2 867.2 382.4 L870.2 383.9 Q872.5 385.0 874.0 386.1 L876.0 387.6 Q877.5 388.8 877.9 390.2 L878.4 392.2 Q878.8 393.8 878.0 394.5 L877.0 395.5 Q876.2 396.2 877.1 397.4 L878.4 398.9 Q879.2 400.0 877.6 399.6 L875.4 399.1 Q873.8 398.8 872.2 398.0 L870.2 397.0 Q868.8 396.2 867.6 395.1 L866.1 393.6 Q865.0 392.5 864.2 393.2 L863.2 394.2 Q862.5 395.0 860.6 395.4 L858.1 395.9 Q856.2 396.2 854.8 395.1 L852.8 393.6 Q851.2 392.5 850.5 392.1 L849.5 391.6 Q848.8 391.2 848.4 390.1 L847.9 388.6 Q847.5 387.5 846.8 386.4 L845.8 384.9 Q845.0 383.8 843.5 382.6 L841.5 381.1 Q840.0 380.0 838.5 378.9 L836.5 377.4 Q835.0 376.2 834.2 375.1Z M198.9 121.7 Q198.8 120.4 199.9 119.1 L201.4 117.3 Q202.5 116.0 204.0 115.8 L206.0 115.6 Q207.5 115.4 208.6 116.3 L210.1 117.6 Q211.2 118.5 212.4 118.1 L213.9 117.6 Q215.0 117.2 216.5 118.0 L218.5 119.0 Q220.0 119.8 221.1 118.8 L222.6 117.6 Q223.8 116.6 225.2 115.9 L227.2 114.9 Q228.8 114.1 229.1 115.2 L229.6 116.8 Q230.0 117.9 230.8 119.4 L231.8 121.4 Q232.5 122.9 234.0 124.2 L236.0 125.9 Q237.5 127.2 237.1 128.0 L236.6 129.0 Q236.2 129.8 234.4 130.1 L231.9 130.6 Q230.0 131.0 228.5 130.8 L226.5 130.6 Q225.0 130.4 223.5 131.1 L221.5 132.1 Q220.0 132.9 218.5 132.7 L216.5 132.4 Q215.0 132.2 213.5 132.1 L211.5 131.8 Q210.0 131.6 208.5 131.1 L206.5 130.3 Q205.0 129.8 203.9 129.4 L202.4 128.9 Q201.2 128.5 200.7 127.4 L199.9 125.9 Q199.4 124.8 199.2 123.4Z M182.2 119.9 Q181.9 119.1 182.8 117.1 L184.1 114.3 Q185.0 112.2 186.5 111.7 L188.5 110.9 Q190.0 110.4 192.2 110.6 L195.2 110.8 Q197.5 111.0 199.0 111.8 L201.0 112.8 Q202.5 113.5 201.8 114.4 L200.8 115.7 Q200.0 116.6 198.9 117.2 L197.4 117.9 Q196.2 118.5 195.1 119.2 L193.6 120.2 Q192.5 121.0 191.0 121.6 L189.0 122.3 Q187.5 122.9 186.2 122.5 L184.4 122.0 Q183.1 121.6 182.8 120.9Z M247.0 133.2 Q246.2 132.2 247.4 131.7 L248.9 130.9 Q250.0 130.4 251.5 130.9 L253.5 131.7 Q255.0 132.2 255.9 132.1 L257.2 131.8 Q258.1 131.6 257.6 132.9 L256.8 134.7 Q256.2 136.0 255.1 136.6 L253.6 137.3 Q252.5 137.9 251.4 137.1 L249.9 136.1 Q248.8 135.4 248.0 134.4Z M269.4 121.0 L271.9 116.0 L278.8 114.8 L278.8 128.5 L273.8 127.9 L270.6 125.4Z M253.6 100.2 Q252.5 99.1 254.4 99.3 L256.9 99.6 Q258.8 99.8 259.9 100.5 L261.4 101.5 Q262.5 102.2 264.0 103.0 L266.0 104.0 Q267.5 104.8 269.8 105.1 L272.8 105.6 Q275.0 106.0 276.1 106.2 L277.6 106.4 Q278.8 106.6 278.8 107.2 L278.8 107.9 Q278.8 108.5 276.1 108.3 L272.6 108.1 Q270.0 107.9 267.8 107.3 L264.8 106.6 Q262.5 106.0 260.6 105.1 L258.1 103.8 Q256.2 102.9 255.1 101.8Z"/>
<path fill="#fff" stroke="#fff" stroke-width="0.7" stroke-linejoin="round" d="M208.8 282.6 Q208.0 280.0 208.6 280.4 L209.4 280.9 Q210.0 281.2 210.8 283.1 L211.8 285.6 Q212.5 287.5 213.6 289.6 L215.1 292.4 Q216.2 294.5 217.1 296.1 L218.2 298.4 Q219.0 300.0 218.6 300.1 L217.9 300.4 Q217.5 300.5 216.4 298.9 L215.1 296.6 Q214.0 295.0 213.0 293.1 L211.7 290.6 Q210.8 288.8 209.9 286.1Z M777.5 109.5 L785.0 110.0 L785.5 111.8 L779.2 111.5Z M556.5 148.3 Q557.3 148.0 558.8 148.2 L560.9 148.5 Q562.5 148.8 562.2 149.8 L561.9 151.2 Q561.7 152.2 560.7 153.2 L559.5 154.4 Q558.5 155.4 557.8 156.6 L556.9 158.1 Q556.2 159.3 555.7 160.5 L555.1 162.1 Q554.6 163.2 554.4 164.3 L554.0 165.8 Q553.8 166.9 554.2 167.8 L554.8 169.1 Q555.2 170.0 556.2 170.5 L557.4 171.1 Q558.4 171.6 560.2 171.3 L562.5 171.0 Q564.3 170.8 566.2 170.5 L568.7 170.0 Q570.6 169.7 571.7 170.0 L573.1 170.5 Q574.1 170.8 573.1 171.4 L571.9 172.1 Q570.9 172.7 569.0 172.9 L566.3 173.2 Q564.3 173.5 563.0 173.9 L561.3 174.6 Q559.9 175.0 558.8 175.6 L557.3 176.4 Q556.2 176.9 555.3 178.0 L554.2 179.4 Q553.3 180.5 552.4 181.3 L551.1 182.4 Q550.2 183.2 549.2 183.7 L548.0 184.3 Q547.0 184.8 546.1 184.4 L544.8 184.0 Q543.9 183.7 543.3 182.7 L542.6 181.5 Q542.0 180.5 542.2 179.4 L542.6 177.8 Q542.8 176.6 543.0 175.4 L543.3 173.9 Q543.6 172.7 544.1 171.5 L544.7 169.9 Q545.2 168.7 545.6 167.6 L546.3 166.0 Q546.7 164.8 547.2 163.6 L547.8 162.1 Q548.3 160.9 549.0 159.7 L549.8 158.1 Q550.5 156.9 551.1 155.8 L551.8 154.2 Q552.4 153.0 553.1 151.8 L553.9 150.3 Q554.6 149.1 555.4 148.8Z M581.8 143.8 Q581.9 143.3 582.4 143.4 L583.1 143.5 Q583.5 143.6 584.5 144.8 L585.7 146.3 Q586.7 147.5 588.1 148.7 L590.0 150.3 Q591.4 151.4 592.8 152.1 L594.7 152.9 Q596.1 153.5 595.8 154.1 L595.3 154.9 Q595.0 155.5 593.3 155.1 L591.1 154.5 Q589.5 154.1 588.5 153.2 L587.1 151.9 Q586.0 151.0 585.1 149.9 L583.8 148.6 Q582.9 147.5 582.4 146.8 L581.8 145.9 Q581.3 145.2 581.5 144.6Z M575.0 167.2 L578.2 165.9 L580.7 167.2 L580.4 169.5 L577.5 170.3 L575.3 169.1Z M570.8 235.2 Q570.0 233.8 571.9 232.8 L574.4 231.5 Q576.2 230.5 578.9 230.2 L582.4 229.8 Q585.0 229.5 587.6 230.0 L591.1 230.7 Q593.8 231.2 596.4 232.0 L599.9 233.0 Q602.5 233.8 602.9 234.9 L603.4 236.4 Q603.8 237.5 601.9 238.2 L599.4 239.2 Q597.5 240.0 594.9 239.8 L591.4 239.7 Q588.8 239.5 586.1 239.8 L582.6 240.2 Q580.0 240.5 577.8 240.0 L574.8 239.3 Q572.5 238.8 571.8 237.2Z M257.1 169.8 Q257.0 168.0 257.6 166.2 L258.4 163.8 Q259.0 162.0 260.2 160.5 L261.8 158.5 Q263.0 157.0 264.5 155.5 L266.5 153.5 Q268.0 152.0 269.2 151.2 L270.8 150.2 Q272.0 149.5 273.5 149.5 L275.5 149.5 Q277.0 149.5 277.6 150.6 L278.4 151.9 Q279.0 153.0 278.7 154.2 L278.3 155.8 Q278.0 157.0 278.9 157.4 L280.1 158.1 Q281.0 158.5 282.2 157.9 L283.8 157.1 Q285.0 156.5 286.5 156.3 L288.5 156.2 Q290.0 156.0 291.5 156.6 L293.5 157.4 Q295.0 158.0 296.1 159.5 L297.4 161.5 Q298.5 163.0 298.4 165.1 L298.1 167.9 Q298.0 170.0 298.1 171.8 L298.4 174.2 Q298.5 176.0 298.9 178.1 L299.6 180.9 Q300.0 183.0 299.2 185.1 L298.2 187.9 Q297.5 190.0 297.2 192.1 L296.8 194.9 Q296.5 197.0 295.8 199.4 L294.8 202.6 Q294.0 205.0 292.5 204.7 L290.5 204.3 Q289.0 204.0 288.6 202.2 L287.9 199.8 Q287.5 198.0 286.4 196.3 L285.1 194.2 Q284.0 192.5 281.3 191.8 L277.7 190.8 Q275.0 190.0 272.8 188.8 L269.8 187.2 Q267.5 186.0 265.6 184.2 L262.9 181.8 Q261.0 180.0 259.9 178.2 L258.6 175.8 Q257.5 174.0 257.4 172.2Z M583.4 145.2 Q583.8 144.5 586.4 144.9 L589.9 145.4 Q592.5 145.8 594.8 146.1 L597.8 146.6 Q600.0 147.0 601.0 146.6 L602.5 146.1 Q603.5 145.8 603.0 147.0 L602.3 148.7 Q601.8 150.0 599.9 150.8 L597.4 151.8 Q595.5 152.5 595.1 153.8 L594.6 155.5 Q594.2 156.8 593.0 156.4 L591.3 155.9 Q590.0 155.5 588.9 154.0 L587.4 152.0 Q586.2 150.5 585.1 149.4 L583.6 148.1 Q582.5 147.0 582.9 146.2Z M560.0 169.5 L567.5 168.2 L573.8 169.5 L572.5 173.0 L565.0 174.2 L560.0 174.2Z M582.0 281.9 Q581.2 280.0 581.7 280.3 L582.5 280.7 Q583.0 281.0 583.5 282.4 L584.0 284.1 Q584.5 285.5 584.8 284.1 L585.2 282.4 Q585.5 281.0 586.0 280.9 L586.5 280.6 Q587.0 280.5 587.9 282.2 L589.1 284.5 Q590.0 286.2 590.8 287.7 L591.8 289.7 Q592.5 291.2 593.2 292.7 L594.2 294.7 Q595.0 296.2 595.8 297.7 L596.8 299.7 Q597.5 301.2 597.9 302.3 L598.3 303.9 Q598.7 305.0 599.5 306.3 L600.5 308.1 Q601.2 309.4 602.2 310.5 L603.4 312.0 Q604.4 313.1 605.1 314.2 L606.1 315.8 Q606.9 316.9 607.0 318.2 L607.1 319.9 Q607.2 321.2 607.3 322.5 L607.4 324.3 Q607.5 325.6 607.9 326.5 L608.3 327.8 Q608.7 328.7 609.5 329.1 L610.5 329.6 Q611.2 330.0 611.7 331.2 L612.5 332.8 Q613.0 334.0 612.5 335.1 L611.7 336.4 Q611.2 337.5 610.3 336.8 L609.0 335.8 Q608.1 335.0 607.7 334.2 L607.3 333.2 Q606.9 332.5 606.1 331.4 L605.1 329.8 Q604.4 328.7 603.4 327.4 L602.2 325.7 Q601.2 324.4 600.1 323.1 L598.6 321.3 Q597.5 320.0 596.8 318.7 L595.8 316.9 Q595.0 315.6 594.2 314.3 L593.2 312.5 Q592.5 311.2 592.3 309.3 L592.1 306.9 Q591.9 305.0 591.5 303.1 L591.0 300.6 Q590.6 298.7 589.7 296.8 L588.4 294.4 Q587.5 292.5 586.4 290.6 L584.8 288.1 Q583.7 286.2 583.0 284.3Z M153.5 132.5 L156.2 132.0 L156.5 137.2 L155.6 141.0 L154.4 138.5Z M622.5 224.0 Q623.0 221.2 625.5 221.1 L628.8 220.9 Q631.2 220.8 631.5 222.8 L631.8 225.5 Q632.0 227.5 632.8 229.4 L633.8 231.9 Q634.5 233.8 635.1 235.6 L635.9 238.1 Q636.5 240.0 635.8 241.7 L634.9 243.8 Q634.2 245.5 634.5 247.2 L635.0 249.5 Q635.2 251.2 634.1 252.4 L632.6 254.1 Q631.5 255.2 630.0 254.6 L628.0 253.7 Q626.5 253.0 626.0 250.8 L625.5 247.8 Q625.0 245.5 624.6 243.2 L624.1 240.2 Q623.8 238.0 623.1 235.8 L622.2 232.8 Q621.5 230.5 622.0 227.7Z M267.0 220.1 Q266.2 219.2 267.8 218.3 L269.8 217.2 Q271.2 216.2 273.5 216.3 L276.5 216.4 Q278.8 216.5 280.0 217.4 L281.7 218.6 Q283.0 219.5 282.1 220.4 L280.9 221.6 Q280.0 222.5 278.1 222.7 L275.6 223.0 Q273.8 223.2 272.2 222.9 L270.2 222.4 Q268.8 222.0 268.0 221.2Z M280.0 222.5 L283.2 221.5 L285.0 228.8 L283.0 233.0 L280.8 229.0Z M286.5 222.5 Q285.5 221.2 287.6 220.9 L290.4 220.4 Q292.5 220.0 294.1 220.9 L296.4 222.1 Q298.0 223.0 299.4 224.2 L301.1 225.8 Q302.5 227.0 301.4 227.8 L299.9 228.8 Q298.8 229.5 297.2 228.6 L295.2 227.4 Q293.8 226.5 292.2 226.2 L290.2 225.8 Q288.8 225.5 287.8 224.2Z M302.0 224.0 L310.0 222.5 L310.8 225.2 L303.0 227.0Z"/>
<g fill="#e4e4e4"><circle cx="64.8" cy="158.8" r="2.4"/><circle cx="66.0" cy="185.0" r="1.4"/><circle cx="74.8" cy="171.2" r="1.4"/><circle cx="86.0" cy="178.8" r="1.4"/><circle cx="67.2" cy="198.0" r="1.4"/><circle cx="63.0" cy="199.5" r="1.4"/><circle cx="59.0" cy="200.5" r="1.4"/><circle cx="114.0" cy="175.5" r="2.2"/><circle cx="254.1" cy="106.0" r="2.4"/><circle cx="233.7" cy="101.3" r="1.4"/><circle cx="236.0" cy="104.0" r="1.4"/><circle cx="232.1" cy="106.0" r="1.4"/><circle cx="250.2" cy="104.0" r="1.4"/><circle cx="207.7" cy="97.7" r="1.4"/><circle cx="206.2" cy="92.9" r="1.4"/><circle cx="229.7" cy="94.5" r="1.4"/><circle cx="243.9" cy="82.7" r="1.4"/><circle cx="251.8" cy="91.4" r="1.4"/><circle cx="195.9" cy="104.0" r="1.4"/><circle cx="171.6" cy="126.0" r="1.4"/><circle cx="295.6" cy="133.8" r="1.4"/><circle cx="297.2" cy="137.7" r="1.4"/><circle cx="303.5" cy="139.3" r="1.4"/><circle cx="316.8" cy="144.8" r="2.1"/><circle cx="298.7" cy="159.0" r="1.4"/><circle cx="302.7" cy="158.5" r="1.4"/><circle cx="286.2" cy="162.9" r="1.4"/><circle cx="323.9" cy="170.8" r="1.4"/><circle cx="566.2" cy="87.5" r="1.4"/><circle cx="571.2" cy="86.2" r="1.4"/><circle cx="455.0" cy="70.0" r="1.4"/><circle cx="457.5" cy="103.8" r="1.4"/><circle cx="450.0" cy="106.2" r="1.4"/><circle cx="297.5" cy="287.5" r="1.2"/><circle cx="300.0" cy="291.2" r="1.2"/><circle cx="302.5" cy="295.0" r="1.2"/><circle cx="306.2" cy="298.8" r="1.2"/><circle cx="310.0" cy="301.2" r="1.2"/><circle cx="312.5" cy="304.5" r="1.2"/><circle cx="301.2" cy="287.5" r="1.2"/><circle cx="313.8" cy="302.5" r="1.2"/><circle cx="333.8" cy="316.2" r="1.2"/><circle cx="337.5" cy="317.5" r="1.2"/><circle cx="341.2" cy="318.8" r="1.2"/><circle cx="342.0" cy="322.5" r="1.2"/><circle cx="342.0" cy="326.2" r="1.2"/><circle cx="341.2" cy="330.0" r="1.2"/><circle cx="325.0" cy="331.2" r="1.2"/><circle cx="328.8" cy="332.5" r="1.2"/><circle cx="331.8" cy="269.2" r="1.2"/><circle cx="280.0" cy="317.5" r="1.2"/><circle cx="266.2" cy="366.2" r="1.2"/><circle cx="261.2" cy="371.2" r="1.2"/><circle cx="265.0" cy="367.0" r="1.2"/><circle cx="267.5" cy="371.2" r="1.2"/><circle cx="270.0" cy="372.0" r="1.2"/><circle cx="433.8" cy="320.5" r="1.2"/><circle cx="439.5" cy="321.2" r="1.2"/><circle cx="435.5" cy="325.5" r="1.2"/><circle cx="439.5" cy="325.8" r="1.2"/><circle cx="305.0" cy="502.5" r="1.2"/><circle cx="305.0" cy="515.0" r="1.2"/><circle cx="304.5" cy="521.2" r="1.2"/><circle cx="305.0" cy="527.5" r="1.2"/><circle cx="305.0" cy="532.5" r="1.2"/><circle cx="341.2" cy="536.2" r="1.2"/><circle cx="346.2" cy="535.5" r="1.2"/><circle cx="295.0" cy="474.5" r="1.2"/><circle cx="331.2" cy="547.5" r="1.2"/><circle cx="318.8" cy="550.0" r="1.2"/><circle cx="454.5" cy="270.5" r="1.2"/><circle cx="452.0" cy="283.8" r="1.2"/><circle cx="455.5" cy="285.5" r="1.2"/><circle cx="461.2" cy="284.2" r="1.2"/><circle cx="452.5" cy="287.0" r="1.2"/><circle cx="440.5" cy="322.0" r="1.2"/><circle cx="440.5" cy="326.2" r="1.2"/><circle cx="633.8" cy="333.8" r="1.2"/><circle cx="683.8" cy="346.2" r="1.2"/><circle cx="683.8" cy="351.2" r="1.2"/><circle cx="683.0" cy="357.5" r="1.2"/><circle cx="517.5" cy="360.0" r="1.2"/><circle cx="515.0" cy="365.0" r="1.2"/><circle cx="512.5" cy="370.0" r="1.2"/><circle cx="510.0" cy="375.0" r="1.2"/><circle cx="600.0" cy="385.0" r="1.2"/><circle cx="601.2" cy="390.0" r="1.2"/><circle cx="600.8" cy="393.8" r="1.2"/><circle cx="607.5" cy="405.5" r="1.2"/><circle cx="610.0" cy="408.0" r="1.2"/><circle cx="612.5" cy="410.5" r="1.2"/><circle cx="640.0" cy="382.5" r="1.2"/><circle cx="633.8" cy="387.5" r="1.2"/><circle cx="636.2" cy="418.8" r="1.2"/><circle cx="640.0" cy="433.8" r="1.2"/><circle cx="643.8" cy="433.0" r="1.2"/><circle cx="683.8" cy="345.0" r="1.2"/><circle cx="683.8" cy="350.0" r="1.2"/><circle cx="683.0" cy="357.5" r="1.2"/><circle cx="683.0" cy="345.0" r="1.2"/><circle cx="683.0" cy="350.0" r="1.2"/><circle cx="683.0" cy="356.2" r="1.2"/><circle cx="732.5" cy="331.2" r="1.2"/><circle cx="732.5" cy="336.2" r="1.2"/><circle cx="736.2" cy="350.0" r="1.2"/><circle cx="827.5" cy="283.8" r="1.2"/><circle cx="822.5" cy="288.8" r="1.2"/><circle cx="816.2" cy="293.8" r="1.2"/><circle cx="812.5" cy="295.0" r="1.2"/><circle cx="870.0" cy="322.5" r="1.2"/><circle cx="865.0" cy="327.5" r="1.2"/><circle cx="840.0" cy="350.0" r="1.2"/><circle cx="856.2" cy="350.5" r="1.2"/><circle cx="870.0" cy="352.5" r="1.2"/><circle cx="880.0" cy="350.0" r="1.2"/><circle cx="802.5" cy="333.8" r="1.2"/><circle cx="806.2" cy="331.2" r="1.2"/><circle cx="808.8" cy="335.0" r="1.2"/><circle cx="812.5" cy="337.5" r="1.2"/><circle cx="805.0" cy="340.0" r="1.2"/><circle cx="633.8" cy="333.0" r="1.2"/><circle cx="761.2" cy="340.0" r="1.2"/><circle cx="893.0" cy="207.0" r="1.2"/><circle cx="891.0" cy="212.0" r="1.2"/><circle cx="888.0" cy="215.5" r="1.2"/><circle cx="884.2" cy="219.5" r="1.2"/><circle cx="878.5" cy="223.8" r="1.2"/><circle cx="875.0" cy="226.2" r="1.2"/><circle cx="871.8" cy="228.8" r="1.2"/><circle cx="870.0" cy="232.5" r="1.2"/><circle cx="919.2" cy="188.8" r="1.2"/><circle cx="924.2" cy="193.0" r="1.2"/><circle cx="936.8" cy="198.8" r="1.2"/><circle cx="820.0" cy="267.0" r="1.2"/><circle cx="824.2" cy="270.5" r="1.2"/><circle cx="828.0" cy="283.8" r="1.2"/><circle cx="823.0" cy="289.5" r="1.8"/><circle cx="817.5" cy="294.5" r="1.2"/><circle cx="813.0" cy="295.5" r="1.2"/><circle cx="892.5" cy="387.5" r="1.0"/><circle cx="897.5" cy="390.0" r="1.0"/><circle cx="901.2" cy="392.0" r="1.0"/><circle cx="906.2" cy="395.0" r="1.0"/><circle cx="908.8" cy="400.5" r="1.0"/><circle cx="905.0" cy="402.5" r="1.0"/><circle cx="902.5" cy="396.2" r="1.0"/><circle cx="886.2" cy="402.5" r="1.0"/><circle cx="870.0" cy="352.5" r="1.0"/><circle cx="873.8" cy="351.2" r="1.0"/><circle cx="881.2" cy="345.5" r="1.0"/><circle cx="885.0" cy="347.0" r="1.0"/><circle cx="888.8" cy="343.0" r="1.0"/><circle cx="912.5" cy="354.5" r="1.0"/><circle cx="932.5" cy="343.0" r="1.0"/><circle cx="921.2" cy="371.2" r="1.0"/><circle cx="935.0" cy="367.5" r="1.0"/><circle cx="937.0" cy="373.0" r="1.0"/><circle cx="940.0" cy="376.2" r="1.0"/><circle cx="943.8" cy="377.5" r="1.0"/><circle cx="945.0" cy="390.0" r="1.0"/><circle cx="950.5" cy="393.0" r="1.0"/><circle cx="920.0" cy="416.2" r="1.0"/><circle cx="921.2" cy="420.0" r="1.0"/><circle cx="923.8" cy="422.0" r="1.0"/><circle cx="952.5" cy="420.0" r="1.0"/><circle cx="949.5" cy="423.8" r="1.0"/><circle cx="967.5" cy="431.2" r="1.0"/><circle cx="965.0" cy="433.8" r="1.0"/><circle cx="976.2" cy="411.2" r="1.0"/><circle cx="978.8" cy="412.5" r="1.0"/><circle cx="860.0" cy="375.0" r="1.0"/><circle cx="871.2" cy="375.5" r="1.0"/><circle cx="880.0" cy="375.0" r="1.0"/><circle cx="863.8" cy="494.5" r="1.0"/><circle cx="869.2" cy="494.5" r="1.0"/><circle cx="873.8" cy="494.2" r="1.0"/><circle cx="845.0" cy="480.0" r="1.0"/><circle cx="925.5" cy="521.2" r="1.0"/><circle cx="920.0" cy="530.0" r="1.0"/><circle cx="923.8" cy="422.0" r="1.0"/><circle cx="950.0" cy="423.0" r="1.0"/><circle cx="967.5" cy="431.2" r="1.0"/><circle cx="965.0" cy="433.8" r="1.0"/><circle cx="628.8" cy="73.0" r="1.0"/><circle cx="648.8" cy="71.2" r="1.0"/><circle cx="658.8" cy="72.0" r="1.0"/><circle cx="661.2" cy="75.5" r="1.0"/><circle cx="650.0" cy="81.0" r="1.0"/><circle cx="635.0" cy="73.8" r="1.0"/><circle cx="728.8" cy="73.8" r="1.2"/><circle cx="725.0" cy="96.2" r="1.2"/><circle cx="728.0" cy="94.5" r="1.2"/><circle cx="732.5" cy="92.5" r="1.2"/><circle cx="736.2" cy="90.5" r="1.2"/><circle cx="743.8" cy="95.5" r="1.2"/><circle cx="745.5" cy="99.5" r="1.2"/><circle cx="769.5" cy="90.0" r="1.2"/><circle cx="772.0" cy="96.2" r="1.2"/><circle cx="707.0" cy="106.2" r="1.2"/><circle cx="677.5" cy="112.0" r="1.2"/><circle cx="691.8" cy="113.0" r="1.2"/><circle cx="593.0" cy="81.0" r="1.2"/><circle cx="581.2" cy="81.0" r="1.8"/><circle cx="571.2" cy="87.5" r="1.2"/><circle cx="565.5" cy="88.2" r="1.2"/><circle cx="563.8" cy="98.8" r="1.2"/><circle cx="623.8" cy="132.5" r="2.0"/><circle cx="650.0" cy="129.5" r="2.2"/><circle cx="844.2" cy="103.8" r="1.2"/><circle cx="843.0" cy="110.0" r="1.2"/><circle cx="877.5" cy="98.8" r="1.2"/><circle cx="885.5" cy="100.5" r="1.2"/><circle cx="966.8" cy="123.8" r="1.2"/><circle cx="769.2" cy="90.5" r="1.2"/><circle cx="771.8" cy="97.0" r="1.2"/><circle cx="919.2" cy="188.8" r="1.2"/><circle cx="924.2" cy="193.8" r="1.2"/><circle cx="936.8" cy="198.0" r="1.2"/><circle cx="532.1" cy="136.5" r="1.0"/><circle cx="536.0" cy="134.9" r="1.0"/><circle cx="545.5" cy="128.6" r="1.0"/><circle cx="548.6" cy="170.6" r="1.0"/><circle cx="555.7" cy="177.9" r="1.0"/><circle cx="545.5" cy="182.1" r="1.0"/><circle cx="495.2" cy="170.0" r="1.0"/><circle cx="480.2" cy="178.2" r="1.0"/><circle cx="480.2" cy="182.1" r="1.0"/><circle cx="520.6" cy="244.0" r="2.0"/><circle cx="520.9" cy="237.1" r="1.7"/><circle cx="366.2" cy="63.1" r="1.2"/><circle cx="370.2" cy="62.5" r="1.8"/><circle cx="314.8" cy="97.8" r="1.2"/><circle cx="268.1" cy="95.6" r="1.2"/><circle cx="255.6" cy="106.2" r="2.2"/><circle cx="634.1" cy="333.1" r="1.5"/><circle cx="733.1" cy="331.9" r="1.2"/><circle cx="733.1" cy="336.0" r="1.2"/><circle cx="736.2" cy="350.6" r="1.2"/><circle cx="741.5" cy="362.1" r="1.2"/><circle cx="745.6" cy="367.2" r="1.2"/><circle cx="750.0" cy="374.4" r="1.2"/><circle cx="752.5" cy="379.8" r="1.2"/><circle cx="761.2" cy="340.2" r="1.2"/><circle cx="772.8" cy="359.0" r="1.2"/><circle cx="773.8" cy="375.6" r="1.2"/><circle cx="771.9" cy="378.8" r="1.2"/><circle cx="787.5" cy="390.4" r="1.7"/><circle cx="792.5" cy="390.4" r="1.2"/><circle cx="791.2" cy="395.2" r="1.2"/><circle cx="796.9" cy="396.2" r="1.7"/><circle cx="805.0" cy="396.2" r="1.8"/><circle cx="811.9" cy="395.6" r="1.2"/><circle cx="808.1" cy="391.2" r="1.2"/><circle cx="814.4" cy="386.9" r="1.2"/><circle cx="819.4" cy="380.6" r="1.2"/><circle cx="819.4" cy="376.9" r="1.2"/><circle cx="815.6" cy="376.9" r="1.2"/><circle cx="828.8" cy="370.6" r="1.2"/><circle cx="828.8" cy="375.0" r="1.7"/><circle cx="824.6" cy="362.1" r="1.2"/><circle cx="856.9" cy="350.6" r="1.2"/><circle cx="805.0" cy="352.8" r="1.2"/><circle cx="803.1" cy="334.0" r="1.2"/><circle cx="809.0" cy="336.0" r="1.2"/><circle cx="806.2" cy="331.2" r="1.7"/><circle cx="818.4" cy="339.1" r="1.2"/><circle cx="836.0" cy="386.0" r="1.2"/><circle cx="840.0" cy="386.9" r="1.2"/><circle cx="822.5" cy="392.2" r="1.2"/><circle cx="826.9" cy="394.4" r="1.2"/><circle cx="831.5" cy="393.5" r="1.7"/><circle cx="843.1" cy="374.4" r="1.2"/><circle cx="171.5" cy="125.8" r="1.2"/><circle cx="207.5" cy="97.9" r="1.2"/><circle cx="196.2" cy="104.1" r="1.2"/><circle cx="231.9" cy="105.8" r="1.2"/><circle cx="236.2" cy="104.1" r="1.2"/><circle cx="250.0" cy="104.1" r="1.2"/><circle cx="255.6" cy="106.6" r="1.8"/><circle cx="223.1" cy="137.0" r="1.5"/></g>
<g fill="#fff"><circle cx="346.9" cy="72.9" r="2.2"/><circle cx="650.0" cy="228.7" r="1.5"/></g>
</g>
</svg>

<h1 class="title">EXPORTACIÓN DE ATÚN DEL ECUADOR ENERO 2026</h1>

<svg class="pin" style="left:207px;top:140.5px" viewBox="0 0 42 72"><ellipse cx="21" cy="64.6" rx="9.3" ry="4" fill="#1a3a7e"/><path d="M21 64.8 L2.9 29.6 A20.3 20.3 0 1 1 39.1 29.6 Z" fill="#1e9ddc"/><circle cx="21" cy="18.6" r="11.2" fill="#fff"/></svg>
<svg class="pin" style="left:460px;top:104.5px" viewBox="0 0 42 72"><ellipse cx="21" cy="64.6" rx="9.3" ry="4" fill="#1a3a7e"/><path d="M21 64.8 L2.9 29.6 A20.3 20.3 0 1 1 39.1 29.6 Z" fill="#1e9ddc"/><circle cx="21" cy="18.6" r="11.2" fill="#fff"/></svg>
<svg class="pin" style="left:501.5px;top:152.5px" viewBox="0 0 42 72"><ellipse cx="21" cy="64.6" rx="9.3" ry="4" fill="#1a3a7e"/><path d="M21 64.8 L2.9 29.6 A20.3 20.3 0 1 1 39.1 29.6 Z" fill="#1e9ddc"/><circle cx="21" cy="18.6" r="11.2" fill="#fff"/></svg>
<svg class="pin" style="left:325px;top:332.0px" viewBox="0 0 42 72"><ellipse cx="21" cy="64.6" rx="9.3" ry="4" fill="#1a3a7e"/><path d="M21 64.8 L2.9 29.6 A20.3 20.3 0 1 1 39.1 29.6 Z" fill="#1e9ddc"/><circle cx="21" cy="18.6" r="11.2" fill="#fff"/></svg>
<svg class="pin" style="left:666.5px;top:366.5px" viewBox="0 0 42 72"><ellipse cx="21" cy="64.6" rx="9.3" ry="4" fill="#1a3a7e"/><path d="M21 64.8 L2.9 29.6 A20.3 20.3 0 1 1 39.1 29.6 Z" fill="#1e9ddc"/><circle cx="21" cy="18.6" r="11.2" fill="#fff"/></svg>

<div class="lbl" style="left:170px;top:229px;letter-spacing:2.1px">ESTADOS UNIDOS</div>
<div class="pct" style="left:170px;top:256.5px">10%</div>

<div class="lbl" style="left:307.5px;top:150px;letter-spacing:1.9px">REINO UNIDO</div>
<div class="pct" style="left:415px;top:178.5px">7%</div>

<div class="lbl" style="left:552.5px;top:214px;letter-spacing:2.1px">UNIÓN EUROPEA</div>
<div class="pct" style="left:553px;top:240.5px">57%</div>

<div class="lbl" style="left:325.5px;top:413px;letter-spacing:2.4px">LATINOAMÉRICA</div>
<div class="pct" style="left:326px;top:441.5px">25%</div>

<div class="lbl" style="left:712.5px;top:415px;letter-spacing:2.0px">OTROS</div>
<div class="pct" style="left:712px;top:448.5px">1%</div>

<div class="src">Fuente: BCE</div>

<svg class="logo" viewBox="0 0 768 560">
<path fill="#3f98c4" d="M155,48 C100,65 60,110 62,165 C65,225 130,262 200,262 C280,262 340,215 430,205 C520,198 610,245 680,300 C640,225 560,165 450,158 C360,155 300,195 215,200 C160,200 125,160 125,110 C125,85 138,62 155,48 Z"/>
<path fill="#57b4e2" d="M240,70 C205,80 182,105 190,130 C200,160 260,162 320,150 C390,137 440,125 500,135 C570,148 620,185 665,225 C625,160 560,115 480,105 C410,98 350,112 290,125 C250,132 228,115 228,98 C228,85 232,78 240,70 Z"/>
<path fill="#4e72a4" d="M55,290 C110,310 180,310 250,280 C320,250 400,225 470,232 C560,242 640,290 690,330 L690,512 Q690,518 684,518 L71,518 Q65,518 65,512 Z"/>
<path fill="#fff" d="M72,316 C85,345 95,365 100,392 C100,420 88,450 76,476 C100,455 120,430 140,412 C170,405 210,410 250,422 L290,440 L295,500 C310,480 325,462 345,446 C390,452 440,458 482,464 L490,510 L512,464 C560,455 610,440 650,420 C665,410 675,400 682,394 L666,385 L682,366 C670,350 650,338 630,330 C590,315 550,308 520,298 L452,236 C440,260 415,280 380,290 C350,298 320,298 292,290 C250,310 200,345 140,395 C120,370 95,335 72,316 Z"/>
<circle cx="625" cy="355" r="10" fill="#4e72a4"/>
</svg>
<div class="logotxt">ceipa</div>
</body>
</html>
